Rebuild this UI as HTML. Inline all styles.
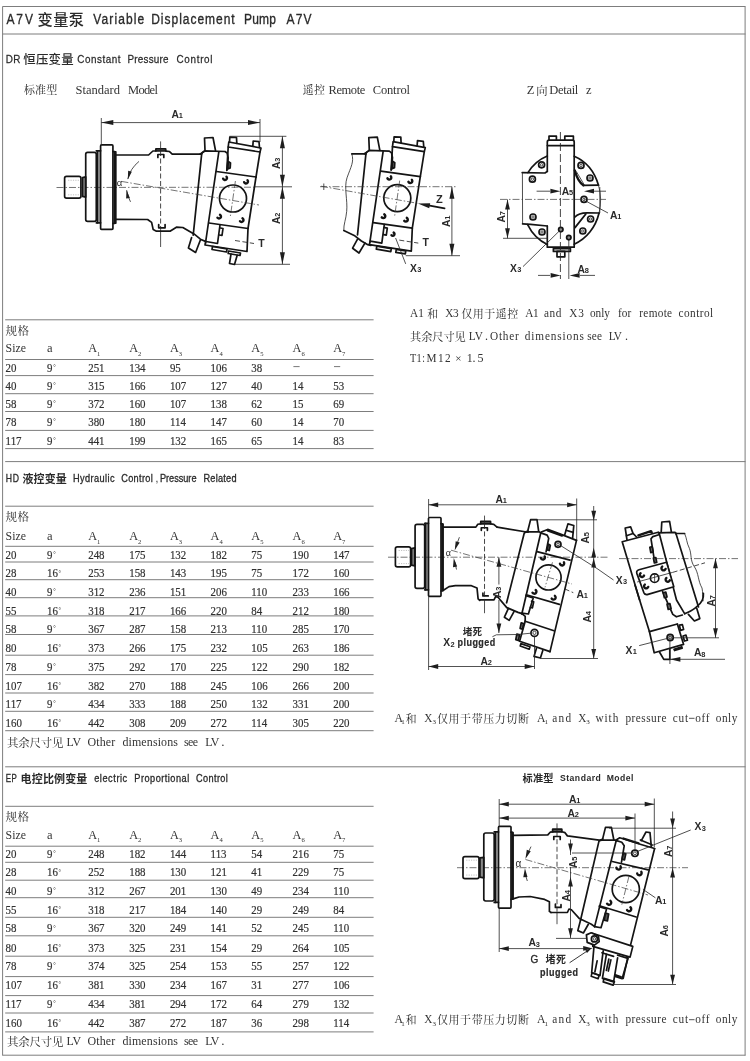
<!DOCTYPE html>
<html><head><meta charset="utf-8"><title>A7V Variable Displacement Pump</title>
<style>
html,body{margin:0;padding:0;background:#fff;}
body{width:750px;height:1061px;overflow:hidden;font-family:"Liberation Serif",serif;}
svg{display:block;filter:blur(0.4px)}
.se{font-family:"Liberation Serif",serif;fill:#333}
.sa{font-family:"Liberation Sans",sans-serif}
.mo{font-family:"Liberation Mono",monospace}
.cs{font-family:"Liberation Sans","Noto Sans CJK SC",sans-serif;fill:#2a2a2a}
.cf{font-family:"Liberation Serif","Noto Serif CJK SC",serif;fill:#2a2a2a}
text{fill:#2a2a2a;white-space:pre}
.d{fill:none;stroke:#141414;stroke-width:1.7;stroke-linecap:round;stroke-linejoin:round}
.t{fill:none;stroke:#262626;stroke-width:.8}
.c{fill:none;stroke:#3a3a3a;stroke-width:.7;stroke-dasharray:7 2 1.5 2}
.h{fill:none;stroke:#262626;stroke-width:.85;stroke-dasharray:5 2.5}
.k{fill:#1e1e1e;stroke:none}
.th{fill:none;stroke:#999;stroke-width:.6;stroke-dasharray:1.2 1.2}
.w{fill:#fff;stroke:#1e1e1e;stroke-width:1}
</style></head>
<body>
<svg width="750" height="1061" viewBox="0 0 750 1061">
<rect x="0" y="0" width="750" height="1061" fill="#fff"/>
<line x1="2.5" y1="6.5" x2="745.5" y2="6.5" stroke="#7d7d7d" stroke-width="1"/>
<line x1="2.6" y1="6.5" x2="2.6" y2="1055.5" stroke="#7d7d7d" stroke-width="1"/>
<line x1="745.1" y1="6.5" x2="745.1" y2="1055.5" stroke="#7d7d7d" stroke-width="1"/>
<line x1="2.5" y1="34" x2="745.5" y2="34" stroke="#7d7d7d" stroke-width="1"/>
<line x1="5.2" y1="461.6" x2="745.5" y2="461.6" stroke="#7d7d7d" stroke-width="1"/>
<line x1="5.2" y1="766.8" x2="745.5" y2="766.8" stroke="#7d7d7d" stroke-width="1"/>
<line x1="2.5" y1="1055.2" x2="745.5" y2="1055.2" stroke="#7d7d7d" stroke-width="1"/>
<text class="sa" font-size="15" transform="translate(6.4,23.9) scale(0.8,1)" textLength="33.25" lengthAdjust="spacing" stroke="#2a2a2a" stroke-width="0.35">A7V</text>
<text class="cs" font-size="15.2" font-weight="500" x="37.6 53.2 68.8" y="24.5">变量泵</text>
<text class="sa" font-size="15" transform="translate(93.3,23.9) scale(0.8,1)" textLength="63.75" lengthAdjust="spacing" stroke="#2a2a2a" stroke-width="0.35">Variable</text>
<text class="sa" font-size="15" transform="translate(151.2,23.9) scale(0.8,1)" textLength="104.38" lengthAdjust="spacing" stroke="#2a2a2a" stroke-width="0.35">Displacement</text>
<text class="sa" font-size="15" transform="translate(244,23.9) scale(0.8,1)" textLength="40.00" lengthAdjust="spacing" stroke="#2a2a2a" stroke-width="0.35">Pump</text>
<text class="sa" font-size="15" transform="translate(286.5,23.9) scale(0.8,1)" textLength="31.25" lengthAdjust="spacing" stroke="#2a2a2a" stroke-width="0.35">A7V</text>
<text class="sa" font-size="11.5" transform="translate(5.8,63.4) scale(0.86,1)" textLength="16.86" lengthAdjust="spacing" stroke="#2a2a2a" stroke-width="0.25">DR</text>
<text class="cs" font-size="12.4" font-weight="500" x="23.2 35.9 48.6 61.3" y="64.2">恒压变量</text>
<text class="sa" font-size="11.5" transform="translate(77.3,63.4) scale(0.86,1)" textLength="50.23" lengthAdjust="spacing" stroke="#2a2a2a" stroke-width="0.25">Constant</text>
<text class="sa" font-size="11.5" transform="translate(127.5,63.4) scale(0.86,1)" textLength="47.67" lengthAdjust="spacing" stroke="#2a2a2a" stroke-width="0.25">Pressure</text>
<text class="sa" font-size="11.5" transform="translate(176.5,63.4) scale(0.86,1)" textLength="41.86" lengthAdjust="spacing" stroke="#2a2a2a" stroke-width="0.25">Control</text>
<text class="cf" font-size="11" x="24 35.1 46.2" y="94.4">标准型</text>
<text class="se" font-size="12.5" x="75.5" y="94" textLength="44.50" lengthAdjust="spacing">Standard</text>
<text class="se" font-size="12.5" x="128" y="94" textLength="30.00" lengthAdjust="spacing">Model</text>
<text class="cf" font-size="11" x="302.7 314" y="94.4">遥控</text>
<text class="se" font-size="12.5" x="328.5" y="94" textLength="36.80" lengthAdjust="spacing">Remote</text>
<text class="se" font-size="12.5" x="372.7" y="94" textLength="37.30" lengthAdjust="spacing">Control</text>
<text class="se" font-size="12.5" x="526.7" y="94">Z</text>
<text class="cf" font-size="11.3" x="536.2" y="94.6">向</text>
<text class="se" font-size="12.5" x="549.3" y="94" textLength="29.00" lengthAdjust="spacing">Detail</text>
<text class="se" font-size="12.5" x="586" y="94">z</text>
<line x1="5.2" y1="319.8" x2="373.6" y2="319.8" stroke="#7d7d7d" stroke-width="1"/>
<line x1="5.2" y1="359.5" x2="373.6" y2="359.5" stroke="#7d7d7d" stroke-width="1"/>
<text class="cf" font-size="11.6" x="5.6 17.4" y="334.8">规格</text>
<text class="se" font-size="12.5" transform="translate(5.6,351.9) scale(0.95,1)">Size</text>
<text class="se" font-size="12.5" x="47.1" y="351.9">a</text>
<text class="se" font-size="12.5" transform="translate(88.2,351.9) scale(0.98,1)">A</text>
<text class="se" font-size="6.6" x="97.10000000000001" y="355.59999999999997">1</text>
<text class="se" font-size="12.5" transform="translate(129.2,351.9) scale(0.98,1)">A</text>
<text class="se" font-size="6.6" x="138.1" y="355.59999999999997">2</text>
<text class="se" font-size="12.5" transform="translate(169.9,351.9) scale(0.98,1)">A</text>
<text class="se" font-size="6.6" x="178.8" y="355.59999999999997">3</text>
<text class="se" font-size="12.5" transform="translate(210.6,351.9) scale(0.98,1)">A</text>
<text class="se" font-size="6.6" x="219.5" y="355.59999999999997">4</text>
<text class="se" font-size="12.5" transform="translate(251.3,351.9) scale(0.98,1)">A</text>
<text class="se" font-size="6.6" x="260.2" y="355.59999999999997">5</text>
<text class="se" font-size="12.5" transform="translate(292.6,351.9) scale(0.98,1)">A</text>
<text class="se" font-size="6.6" x="301.5" y="355.59999999999997">6</text>
<text class="se" font-size="12.5" transform="translate(333.2,351.9) scale(0.98,1)">A</text>
<text class="se" font-size="6.6" x="342.09999999999997" y="355.59999999999997">7</text>
<line x1="5.2" y1="375.6" x2="373.6" y2="375.6" stroke="#7d7d7d" stroke-width="1"/>
<text class="se" font-size="13" transform="translate(5.6,371.7) scale(0.84,1)" stroke="#2a2a2a" stroke-width="0.2">20</text>
<text class="se" font-size="13" transform="translate(47.1,371.7) scale(0.84,1)" stroke="#2a2a2a" stroke-width="0.2">9</text>
<text class="se" font-size="6.2" x="53.160000000000004" y="368.9">°</text>
<text class="se" font-size="13" transform="translate(88.2,371.7) scale(0.84,1)" stroke="#2a2a2a" stroke-width="0.2">251</text>
<text class="se" font-size="13" transform="translate(129.2,371.7) scale(0.84,1)" stroke="#2a2a2a" stroke-width="0.2">134</text>
<text class="se" font-size="13" transform="translate(169.9,371.7) scale(0.84,1)" stroke="#2a2a2a" stroke-width="0.2">95</text>
<text class="se" font-size="13" transform="translate(210.6,371.7) scale(0.84,1)" stroke="#2a2a2a" stroke-width="0.2">106</text>
<text class="se" font-size="13" transform="translate(251.3,371.7) scale(0.84,1)" stroke="#2a2a2a" stroke-width="0.2">38</text>
<line x1="293.40000000000003" y1="366.59999999999997" x2="299.6" y2="366.59999999999997" stroke="#555" stroke-width="0.8"/>
<line x1="334.0" y1="366.59999999999997" x2="340.2" y2="366.59999999999997" stroke="#555" stroke-width="0.8"/>
<line x1="5.2" y1="393.7" x2="373.6" y2="393.7" stroke="#7d7d7d" stroke-width="1"/>
<text class="se" font-size="13" transform="translate(5.6,390.2) scale(0.84,1)" stroke="#2a2a2a" stroke-width="0.2">40</text>
<text class="se" font-size="13" transform="translate(47.1,390.2) scale(0.84,1)" stroke="#2a2a2a" stroke-width="0.2">9</text>
<text class="se" font-size="6.2" x="53.160000000000004" y="387.4">°</text>
<text class="se" font-size="13" transform="translate(88.2,390.2) scale(0.84,1)" stroke="#2a2a2a" stroke-width="0.2">315</text>
<text class="se" font-size="13" transform="translate(129.2,390.2) scale(0.84,1)" stroke="#2a2a2a" stroke-width="0.2">166</text>
<text class="se" font-size="13" transform="translate(169.9,390.2) scale(0.84,1)" stroke="#2a2a2a" stroke-width="0.2">107</text>
<text class="se" font-size="13" transform="translate(210.6,390.2) scale(0.84,1)" stroke="#2a2a2a" stroke-width="0.2">127</text>
<text class="se" font-size="13" transform="translate(251.3,390.2) scale(0.84,1)" stroke="#2a2a2a" stroke-width="0.2">40</text>
<text class="se" font-size="13" transform="translate(292.6,390.2) scale(0.84,1)" stroke="#2a2a2a" stroke-width="0.2">14</text>
<text class="se" font-size="13" transform="translate(333.2,390.2) scale(0.84,1)" stroke="#2a2a2a" stroke-width="0.2">53</text>
<line x1="5.2" y1="411.5" x2="373.6" y2="411.5" stroke="#7d7d7d" stroke-width="1"/>
<text class="se" font-size="13" transform="translate(5.6,408.0) scale(0.84,1)" stroke="#2a2a2a" stroke-width="0.2">58</text>
<text class="se" font-size="13" transform="translate(47.1,408.0) scale(0.84,1)" stroke="#2a2a2a" stroke-width="0.2">9</text>
<text class="se" font-size="6.2" x="53.160000000000004" y="405.2">°</text>
<text class="se" font-size="13" transform="translate(88.2,408.0) scale(0.84,1)" stroke="#2a2a2a" stroke-width="0.2">372</text>
<text class="se" font-size="13" transform="translate(129.2,408.0) scale(0.84,1)" stroke="#2a2a2a" stroke-width="0.2">160</text>
<text class="se" font-size="13" transform="translate(169.9,408.0) scale(0.84,1)" stroke="#2a2a2a" stroke-width="0.2">107</text>
<text class="se" font-size="13" transform="translate(210.6,408.0) scale(0.84,1)" stroke="#2a2a2a" stroke-width="0.2">138</text>
<text class="se" font-size="13" transform="translate(251.3,408.0) scale(0.84,1)" stroke="#2a2a2a" stroke-width="0.2">62</text>
<text class="se" font-size="13" transform="translate(292.6,408.0) scale(0.84,1)" stroke="#2a2a2a" stroke-width="0.2">15</text>
<text class="se" font-size="13" transform="translate(333.2,408.0) scale(0.84,1)" stroke="#2a2a2a" stroke-width="0.2">69</text>
<line x1="5.2" y1="430.4" x2="373.6" y2="430.4" stroke="#7d7d7d" stroke-width="1"/>
<text class="se" font-size="13" transform="translate(5.6,426.2) scale(0.84,1)" stroke="#2a2a2a" stroke-width="0.2">78</text>
<text class="se" font-size="13" transform="translate(47.1,426.2) scale(0.84,1)" stroke="#2a2a2a" stroke-width="0.2">9</text>
<text class="se" font-size="6.2" x="53.160000000000004" y="423.4">°</text>
<text class="se" font-size="13" transform="translate(88.2,426.2) scale(0.84,1)" stroke="#2a2a2a" stroke-width="0.2">380</text>
<text class="se" font-size="13" transform="translate(129.2,426.2) scale(0.84,1)" stroke="#2a2a2a" stroke-width="0.2">180</text>
<text class="se" font-size="13" transform="translate(169.9,426.2) scale(0.84,1)" stroke="#2a2a2a" stroke-width="0.2">114</text>
<text class="se" font-size="13" transform="translate(210.6,426.2) scale(0.84,1)" stroke="#2a2a2a" stroke-width="0.2">147</text>
<text class="se" font-size="13" transform="translate(251.3,426.2) scale(0.84,1)" stroke="#2a2a2a" stroke-width="0.2">60</text>
<text class="se" font-size="13" transform="translate(292.6,426.2) scale(0.84,1)" stroke="#2a2a2a" stroke-width="0.2">14</text>
<text class="se" font-size="13" transform="translate(333.2,426.2) scale(0.84,1)" stroke="#2a2a2a" stroke-width="0.2">70</text>
<line x1="5.2" y1="448.6" x2="373.6" y2="448.6" stroke="#7d7d7d" stroke-width="1"/>
<text class="se" font-size="13" transform="translate(5.6,444.7) scale(0.84,1)" stroke="#2a2a2a" stroke-width="0.2">117</text>
<text class="se" font-size="13" transform="translate(47.1,444.7) scale(0.84,1)" stroke="#2a2a2a" stroke-width="0.2">9</text>
<text class="se" font-size="6.2" x="53.160000000000004" y="441.9">°</text>
<text class="se" font-size="13" transform="translate(88.2,444.7) scale(0.84,1)" stroke="#2a2a2a" stroke-width="0.2">441</text>
<text class="se" font-size="13" transform="translate(129.2,444.7) scale(0.84,1)" stroke="#2a2a2a" stroke-width="0.2">199</text>
<text class="se" font-size="13" transform="translate(169.9,444.7) scale(0.84,1)" stroke="#2a2a2a" stroke-width="0.2">132</text>
<text class="se" font-size="13" transform="translate(210.6,444.7) scale(0.84,1)" stroke="#2a2a2a" stroke-width="0.2">165</text>
<text class="se" font-size="13" transform="translate(251.3,444.7) scale(0.84,1)" stroke="#2a2a2a" stroke-width="0.2">65</text>
<text class="se" font-size="13" transform="translate(292.6,444.7) scale(0.84,1)" stroke="#2a2a2a" stroke-width="0.2">14</text>
<text class="se" font-size="13" transform="translate(333.2,444.7) scale(0.84,1)" stroke="#2a2a2a" stroke-width="0.2">83</text>
<text class="sa" font-size="10.2" transform="translate(5.8,482.4) scale(0.85,1)" textLength="15.65" lengthAdjust="spacing" stroke="#2a2a2a" stroke-width="0.3">HD</text>
<text class="cs" font-size="11" font-weight="bold" x="22.5 33.6 44.7 55.8" y="483.2">液控变量</text>
<text class="sa" font-size="10.2" transform="translate(73,482.4) scale(0.9,1)" textLength="46.11" lengthAdjust="spacing" stroke="#2a2a2a" stroke-width="0.3">Hydraulic</text>
<text class="sa" font-size="10.2" transform="translate(121.2,482.4) scale(0.9,1)" textLength="35.11" lengthAdjust="spacing" stroke="#2a2a2a" stroke-width="0.3">Control</text>
<text class="sa" font-size="10.2" x="155.5" y="482.4">,</text>
<text class="sa" font-size="10.2" transform="translate(160,482.4) scale(0.9,1)" textLength="40.56" lengthAdjust="spacing" stroke="#2a2a2a" stroke-width="0.3">Pressure</text>
<text class="sa" font-size="10.2" transform="translate(203.5,482.4) scale(0.9,1)" textLength="36.67" lengthAdjust="spacing" stroke="#2a2a2a" stroke-width="0.3">Related</text>
<line x1="5.2" y1="506.2" x2="373.6" y2="506.2" stroke="#7d7d7d" stroke-width="1"/>
<line x1="5.2" y1="546.3" x2="373.6" y2="546.3" stroke="#7d7d7d" stroke-width="1"/>
<text class="cf" font-size="11.6" x="5.6 17.4" y="521.2">规格</text>
<text class="se" font-size="12.5" transform="translate(5.6,540) scale(0.95,1)">Size</text>
<text class="se" font-size="12.5" x="47.1" y="540">a</text>
<text class="se" font-size="12.5" transform="translate(88.2,540) scale(0.98,1)">A</text>
<text class="se" font-size="6.6" x="97.10000000000001" y="543.7">1</text>
<text class="se" font-size="12.5" transform="translate(129.2,540) scale(0.98,1)">A</text>
<text class="se" font-size="6.6" x="138.1" y="543.7">2</text>
<text class="se" font-size="12.5" transform="translate(169.9,540) scale(0.98,1)">A</text>
<text class="se" font-size="6.6" x="178.8" y="543.7">3</text>
<text class="se" font-size="12.5" transform="translate(210.6,540) scale(0.98,1)">A</text>
<text class="se" font-size="6.6" x="219.5" y="543.7">4</text>
<text class="se" font-size="12.5" transform="translate(251.3,540) scale(0.98,1)">A</text>
<text class="se" font-size="6.6" x="260.2" y="543.7">5</text>
<text class="se" font-size="12.5" transform="translate(292.6,540) scale(0.98,1)">A</text>
<text class="se" font-size="6.6" x="301.5" y="543.7">6</text>
<text class="se" font-size="12.5" transform="translate(333.2,540) scale(0.98,1)">A</text>
<text class="se" font-size="6.6" x="342.09999999999997" y="543.7">7</text>
<line x1="5.2" y1="562" x2="373.6" y2="562" stroke="#7d7d7d" stroke-width="1"/>
<text class="se" font-size="13" transform="translate(5.6,559.0) scale(0.84,1)" stroke="#2a2a2a" stroke-width="0.2">20</text>
<text class="se" font-size="13" transform="translate(47.1,559.0) scale(0.84,1)" stroke="#2a2a2a" stroke-width="0.2">9</text>
<text class="se" font-size="6.2" x="53.160000000000004" y="556.2">°</text>
<text class="se" font-size="13" transform="translate(88.2,559.0) scale(0.84,1)" stroke="#2a2a2a" stroke-width="0.2">248</text>
<text class="se" font-size="13" transform="translate(129.2,559.0) scale(0.84,1)" stroke="#2a2a2a" stroke-width="0.2">175</text>
<text class="se" font-size="13" transform="translate(169.9,559.0) scale(0.84,1)" stroke="#2a2a2a" stroke-width="0.2">132</text>
<text class="se" font-size="13" transform="translate(210.6,559.0) scale(0.84,1)" stroke="#2a2a2a" stroke-width="0.2">182</text>
<text class="se" font-size="13" transform="translate(251.3,559.0) scale(0.84,1)" stroke="#2a2a2a" stroke-width="0.2">75</text>
<text class="se" font-size="13" transform="translate(292.6,559.0) scale(0.84,1)" stroke="#2a2a2a" stroke-width="0.2">190</text>
<text class="se" font-size="13" transform="translate(333.2,559.0) scale(0.84,1)" stroke="#2a2a2a" stroke-width="0.2">147</text>
<line x1="5.2" y1="579.7" x2="373.6" y2="579.7" stroke="#7d7d7d" stroke-width="1"/>
<text class="se" font-size="13" transform="translate(5.6,577.3) scale(0.84,1)" stroke="#2a2a2a" stroke-width="0.2">28</text>
<text class="se" font-size="13" transform="translate(47.1,577.3) scale(0.84,1)" stroke="#2a2a2a" stroke-width="0.2">16</text>
<text class="se" font-size="6.2" x="58.620000000000005" y="574.5">°</text>
<text class="se" font-size="13" transform="translate(88.2,577.3) scale(0.84,1)" stroke="#2a2a2a" stroke-width="0.2">253</text>
<text class="se" font-size="13" transform="translate(129.2,577.3) scale(0.84,1)" stroke="#2a2a2a" stroke-width="0.2">158</text>
<text class="se" font-size="13" transform="translate(169.9,577.3) scale(0.84,1)" stroke="#2a2a2a" stroke-width="0.2">143</text>
<text class="se" font-size="13" transform="translate(210.6,577.3) scale(0.84,1)" stroke="#2a2a2a" stroke-width="0.2">195</text>
<text class="se" font-size="13" transform="translate(251.3,577.3) scale(0.84,1)" stroke="#2a2a2a" stroke-width="0.2">75</text>
<text class="se" font-size="13" transform="translate(292.6,577.3) scale(0.84,1)" stroke="#2a2a2a" stroke-width="0.2">172</text>
<text class="se" font-size="13" transform="translate(333.2,577.3) scale(0.84,1)" stroke="#2a2a2a" stroke-width="0.2">160</text>
<line x1="5.2" y1="597.7" x2="373.6" y2="597.7" stroke="#7d7d7d" stroke-width="1"/>
<text class="se" font-size="13" transform="translate(5.6,596.1) scale(0.84,1)" stroke="#2a2a2a" stroke-width="0.2">40</text>
<text class="se" font-size="13" transform="translate(47.1,596.1) scale(0.84,1)" stroke="#2a2a2a" stroke-width="0.2">9</text>
<text class="se" font-size="6.2" x="53.160000000000004" y="593.3000000000001">°</text>
<text class="se" font-size="13" transform="translate(88.2,596.1) scale(0.84,1)" stroke="#2a2a2a" stroke-width="0.2">312</text>
<text class="se" font-size="13" transform="translate(129.2,596.1) scale(0.84,1)" stroke="#2a2a2a" stroke-width="0.2">236</text>
<text class="se" font-size="13" transform="translate(169.9,596.1) scale(0.84,1)" stroke="#2a2a2a" stroke-width="0.2">151</text>
<text class="se" font-size="13" transform="translate(210.6,596.1) scale(0.84,1)" stroke="#2a2a2a" stroke-width="0.2">206</text>
<text class="se" font-size="13" transform="translate(251.3,596.1) scale(0.84,1)" stroke="#2a2a2a" stroke-width="0.2">110</text>
<text class="se" font-size="13" transform="translate(292.6,596.1) scale(0.84,1)" stroke="#2a2a2a" stroke-width="0.2">233</text>
<text class="se" font-size="13" transform="translate(333.2,596.1) scale(0.84,1)" stroke="#2a2a2a" stroke-width="0.2">166</text>
<line x1="5.2" y1="615.9" x2="373.6" y2="615.9" stroke="#7d7d7d" stroke-width="1"/>
<text class="se" font-size="13" transform="translate(5.6,614.6) scale(0.84,1)" stroke="#2a2a2a" stroke-width="0.2">55</text>
<text class="se" font-size="13" transform="translate(47.1,614.6) scale(0.84,1)" stroke="#2a2a2a" stroke-width="0.2">16</text>
<text class="se" font-size="6.2" x="58.620000000000005" y="611.8000000000001">°</text>
<text class="se" font-size="13" transform="translate(88.2,614.6) scale(0.84,1)" stroke="#2a2a2a" stroke-width="0.2">318</text>
<text class="se" font-size="13" transform="translate(129.2,614.6) scale(0.84,1)" stroke="#2a2a2a" stroke-width="0.2">217</text>
<text class="se" font-size="13" transform="translate(169.9,614.6) scale(0.84,1)" stroke="#2a2a2a" stroke-width="0.2">166</text>
<text class="se" font-size="13" transform="translate(210.6,614.6) scale(0.84,1)" stroke="#2a2a2a" stroke-width="0.2">220</text>
<text class="se" font-size="13" transform="translate(251.3,614.6) scale(0.84,1)" stroke="#2a2a2a" stroke-width="0.2">84</text>
<text class="se" font-size="13" transform="translate(292.6,614.6) scale(0.84,1)" stroke="#2a2a2a" stroke-width="0.2">212</text>
<text class="se" font-size="13" transform="translate(333.2,614.6) scale(0.84,1)" stroke="#2a2a2a" stroke-width="0.2">180</text>
<line x1="5.2" y1="634.5" x2="373.6" y2="634.5" stroke="#7d7d7d" stroke-width="1"/>
<text class="se" font-size="13" transform="translate(5.6,632.8) scale(0.84,1)" stroke="#2a2a2a" stroke-width="0.2">58</text>
<text class="se" font-size="13" transform="translate(47.1,632.8) scale(0.84,1)" stroke="#2a2a2a" stroke-width="0.2">9</text>
<text class="se" font-size="6.2" x="53.160000000000004" y="630.0">°</text>
<text class="se" font-size="13" transform="translate(88.2,632.8) scale(0.84,1)" stroke="#2a2a2a" stroke-width="0.2">367</text>
<text class="se" font-size="13" transform="translate(129.2,632.8) scale(0.84,1)" stroke="#2a2a2a" stroke-width="0.2">287</text>
<text class="se" font-size="13" transform="translate(169.9,632.8) scale(0.84,1)" stroke="#2a2a2a" stroke-width="0.2">158</text>
<text class="se" font-size="13" transform="translate(210.6,632.8) scale(0.84,1)" stroke="#2a2a2a" stroke-width="0.2">213</text>
<text class="se" font-size="13" transform="translate(251.3,632.8) scale(0.84,1)" stroke="#2a2a2a" stroke-width="0.2">110</text>
<text class="se" font-size="13" transform="translate(292.6,632.8) scale(0.84,1)" stroke="#2a2a2a" stroke-width="0.2">285</text>
<text class="se" font-size="13" transform="translate(333.2,632.8) scale(0.84,1)" stroke="#2a2a2a" stroke-width="0.2">170</text>
<line x1="5.2" y1="655.2" x2="373.6" y2="655.2" stroke="#7d7d7d" stroke-width="1"/>
<text class="se" font-size="13" transform="translate(5.6,651.7) scale(0.84,1)" stroke="#2a2a2a" stroke-width="0.2">80</text>
<text class="se" font-size="13" transform="translate(47.1,651.7) scale(0.84,1)" stroke="#2a2a2a" stroke-width="0.2">16</text>
<text class="se" font-size="6.2" x="58.620000000000005" y="648.9000000000001">°</text>
<text class="se" font-size="13" transform="translate(88.2,651.7) scale(0.84,1)" stroke="#2a2a2a" stroke-width="0.2">373</text>
<text class="se" font-size="13" transform="translate(129.2,651.7) scale(0.84,1)" stroke="#2a2a2a" stroke-width="0.2">266</text>
<text class="se" font-size="13" transform="translate(169.9,651.7) scale(0.84,1)" stroke="#2a2a2a" stroke-width="0.2">175</text>
<text class="se" font-size="13" transform="translate(210.6,651.7) scale(0.84,1)" stroke="#2a2a2a" stroke-width="0.2">232</text>
<text class="se" font-size="13" transform="translate(251.3,651.7) scale(0.84,1)" stroke="#2a2a2a" stroke-width="0.2">105</text>
<text class="se" font-size="13" transform="translate(292.6,651.7) scale(0.84,1)" stroke="#2a2a2a" stroke-width="0.2">263</text>
<text class="se" font-size="13" transform="translate(333.2,651.7) scale(0.84,1)" stroke="#2a2a2a" stroke-width="0.2">186</text>
<line x1="5.2" y1="674.6" x2="373.6" y2="674.6" stroke="#7d7d7d" stroke-width="1"/>
<text class="se" font-size="13" transform="translate(5.6,670.5) scale(0.84,1)" stroke="#2a2a2a" stroke-width="0.2">78</text>
<text class="se" font-size="13" transform="translate(47.1,670.5) scale(0.84,1)" stroke="#2a2a2a" stroke-width="0.2">9</text>
<text class="se" font-size="6.2" x="53.160000000000004" y="667.7">°</text>
<text class="se" font-size="13" transform="translate(88.2,670.5) scale(0.84,1)" stroke="#2a2a2a" stroke-width="0.2">375</text>
<text class="se" font-size="13" transform="translate(129.2,670.5) scale(0.84,1)" stroke="#2a2a2a" stroke-width="0.2">292</text>
<text class="se" font-size="13" transform="translate(169.9,670.5) scale(0.84,1)" stroke="#2a2a2a" stroke-width="0.2">170</text>
<text class="se" font-size="13" transform="translate(210.6,670.5) scale(0.84,1)" stroke="#2a2a2a" stroke-width="0.2">225</text>
<text class="se" font-size="13" transform="translate(251.3,670.5) scale(0.84,1)" stroke="#2a2a2a" stroke-width="0.2">122</text>
<text class="se" font-size="13" transform="translate(292.6,670.5) scale(0.84,1)" stroke="#2a2a2a" stroke-width="0.2">290</text>
<text class="se" font-size="13" transform="translate(333.2,670.5) scale(0.84,1)" stroke="#2a2a2a" stroke-width="0.2">182</text>
<line x1="5.2" y1="693" x2="373.6" y2="693" stroke="#7d7d7d" stroke-width="1"/>
<text class="se" font-size="13" transform="translate(5.6,689.5) scale(0.84,1)" stroke="#2a2a2a" stroke-width="0.2">107</text>
<text class="se" font-size="13" transform="translate(47.1,689.5) scale(0.84,1)" stroke="#2a2a2a" stroke-width="0.2">16</text>
<text class="se" font-size="6.2" x="58.620000000000005" y="686.7">°</text>
<text class="se" font-size="13" transform="translate(88.2,689.5) scale(0.84,1)" stroke="#2a2a2a" stroke-width="0.2">382</text>
<text class="se" font-size="13" transform="translate(129.2,689.5) scale(0.84,1)" stroke="#2a2a2a" stroke-width="0.2">270</text>
<text class="se" font-size="13" transform="translate(169.9,689.5) scale(0.84,1)" stroke="#2a2a2a" stroke-width="0.2">188</text>
<text class="se" font-size="13" transform="translate(210.6,689.5) scale(0.84,1)" stroke="#2a2a2a" stroke-width="0.2">245</text>
<text class="se" font-size="13" transform="translate(251.3,689.5) scale(0.84,1)" stroke="#2a2a2a" stroke-width="0.2">106</text>
<text class="se" font-size="13" transform="translate(292.6,689.5) scale(0.84,1)" stroke="#2a2a2a" stroke-width="0.2">266</text>
<text class="se" font-size="13" transform="translate(333.2,689.5) scale(0.84,1)" stroke="#2a2a2a" stroke-width="0.2">200</text>
<line x1="5.2" y1="711.3" x2="373.6" y2="711.3" stroke="#7d7d7d" stroke-width="1"/>
<text class="se" font-size="13" transform="translate(5.6,708.2) scale(0.84,1)" stroke="#2a2a2a" stroke-width="0.2">117</text>
<text class="se" font-size="13" transform="translate(47.1,708.2) scale(0.84,1)" stroke="#2a2a2a" stroke-width="0.2">9</text>
<text class="se" font-size="6.2" x="53.160000000000004" y="705.4000000000001">°</text>
<text class="se" font-size="13" transform="translate(88.2,708.2) scale(0.84,1)" stroke="#2a2a2a" stroke-width="0.2">434</text>
<text class="se" font-size="13" transform="translate(129.2,708.2) scale(0.84,1)" stroke="#2a2a2a" stroke-width="0.2">333</text>
<text class="se" font-size="13" transform="translate(169.9,708.2) scale(0.84,1)" stroke="#2a2a2a" stroke-width="0.2">188</text>
<text class="se" font-size="13" transform="translate(210.6,708.2) scale(0.84,1)" stroke="#2a2a2a" stroke-width="0.2">250</text>
<text class="se" font-size="13" transform="translate(251.3,708.2) scale(0.84,1)" stroke="#2a2a2a" stroke-width="0.2">132</text>
<text class="se" font-size="13" transform="translate(292.6,708.2) scale(0.84,1)" stroke="#2a2a2a" stroke-width="0.2">331</text>
<text class="se" font-size="13" transform="translate(333.2,708.2) scale(0.84,1)" stroke="#2a2a2a" stroke-width="0.2">200</text>
<line x1="5.2" y1="730.7" x2="373.6" y2="730.7" stroke="#7d7d7d" stroke-width="1"/>
<text class="se" font-size="13" transform="translate(5.6,727.2) scale(0.84,1)" stroke="#2a2a2a" stroke-width="0.2">160</text>
<text class="se" font-size="13" transform="translate(47.1,727.2) scale(0.84,1)" stroke="#2a2a2a" stroke-width="0.2">16</text>
<text class="se" font-size="6.2" x="58.620000000000005" y="724.4000000000001">°</text>
<text class="se" font-size="13" transform="translate(88.2,727.2) scale(0.84,1)" stroke="#2a2a2a" stroke-width="0.2">442</text>
<text class="se" font-size="13" transform="translate(129.2,727.2) scale(0.84,1)" stroke="#2a2a2a" stroke-width="0.2">308</text>
<text class="se" font-size="13" transform="translate(169.9,727.2) scale(0.84,1)" stroke="#2a2a2a" stroke-width="0.2">209</text>
<text class="se" font-size="13" transform="translate(210.6,727.2) scale(0.84,1)" stroke="#2a2a2a" stroke-width="0.2">272</text>
<text class="se" font-size="13" transform="translate(251.3,727.2) scale(0.84,1)" stroke="#2a2a2a" stroke-width="0.2">114</text>
<text class="se" font-size="13" transform="translate(292.6,727.2) scale(0.84,1)" stroke="#2a2a2a" stroke-width="0.2">305</text>
<text class="se" font-size="13" transform="translate(333.2,727.2) scale(0.84,1)" stroke="#2a2a2a" stroke-width="0.2">220</text>
<text class="cf" font-size="11.4" x="7.1 18.35 29.6 40.85 52.1" y="746.6">其余尺寸见</text>
<text class="se" font-size="13" transform="translate(66.6,745.9) scale(0.92,1)" textLength="15.87" lengthAdjust="spacing">LV</text>
<text class="se" font-size="13" transform="translate(87.4,745.9) scale(0.92,1)" textLength="30.33" lengthAdjust="spacing">Other</text>
<text class="se" font-size="13" transform="translate(122.4,745.9) scale(0.92,1)" textLength="60.43" lengthAdjust="spacing">dimensions</text>
<text class="se" font-size="13" transform="translate(184.1,745.9) scale(0.92,1)" textLength="15.11" lengthAdjust="spacing">see</text>
<text class="se" font-size="13" transform="translate(205.2,745.9) scale(0.92,1)" textLength="15.33" lengthAdjust="spacing">LV</text>
<text class="se" font-size="13" x="221.3" y="745.9">.</text>
<text class="sa" font-size="10.2" transform="translate(5.8,782.2) scale(0.78,1)" textLength="13.97" lengthAdjust="spacing" stroke="#2a2a2a" stroke-width="0.3">EP</text>
<text class="cs" font-size="11" font-weight="bold" x="20.6 31.75 42.9 54.05 65.2 76.35" y="783">电控比例变量</text>
<text class="sa" font-size="10.2" transform="translate(94.2,782.2) scale(0.9,1)" textLength="36.67" lengthAdjust="spacing" stroke="#2a2a2a" stroke-width="0.3">electric</text>
<text class="sa" font-size="10.2" transform="translate(134.3,782.2) scale(0.9,1)" textLength="61.00" lengthAdjust="spacing" stroke="#2a2a2a" stroke-width="0.3">Proportional</text>
<text class="sa" font-size="10.2" transform="translate(195.9,782.2) scale(0.9,1)" textLength="35.56" lengthAdjust="spacing" stroke="#2a2a2a" stroke-width="0.3">Control</text>
<line x1="5.2" y1="806.3" x2="373.6" y2="806.3" stroke="#7d7d7d" stroke-width="1"/>
<line x1="5.2" y1="846.2" x2="373.6" y2="846.2" stroke="#7d7d7d" stroke-width="1"/>
<text class="cf" font-size="11.6" x="5.6 17.4" y="821.3">规格</text>
<text class="se" font-size="12.5" transform="translate(5.6,838.7) scale(0.95,1)">Size</text>
<text class="se" font-size="12.5" x="47.1" y="838.7">a</text>
<text class="se" font-size="12.5" transform="translate(88.2,838.7) scale(0.98,1)">A</text>
<text class="se" font-size="6.6" x="97.10000000000001" y="842.4000000000001">1</text>
<text class="se" font-size="12.5" transform="translate(129.2,838.7) scale(0.98,1)">A</text>
<text class="se" font-size="6.6" x="138.1" y="842.4000000000001">2</text>
<text class="se" font-size="12.5" transform="translate(169.9,838.7) scale(0.98,1)">A</text>
<text class="se" font-size="6.6" x="178.8" y="842.4000000000001">3</text>
<text class="se" font-size="12.5" transform="translate(210.6,838.7) scale(0.98,1)">A</text>
<text class="se" font-size="6.6" x="219.5" y="842.4000000000001">4</text>
<text class="se" font-size="12.5" transform="translate(251.3,838.7) scale(0.98,1)">A</text>
<text class="se" font-size="6.6" x="260.2" y="842.4000000000001">5</text>
<text class="se" font-size="12.5" transform="translate(292.6,838.7) scale(0.98,1)">A</text>
<text class="se" font-size="6.6" x="301.5" y="842.4000000000001">6</text>
<text class="se" font-size="12.5" transform="translate(333.2,838.7) scale(0.98,1)">A</text>
<text class="se" font-size="6.6" x="342.09999999999997" y="842.4000000000001">7</text>
<line x1="5.2" y1="862.3" x2="373.6" y2="862.3" stroke="#7d7d7d" stroke-width="1"/>
<text class="se" font-size="13" transform="translate(5.6,858.0) scale(0.84,1)" stroke="#2a2a2a" stroke-width="0.2">20</text>
<text class="se" font-size="13" transform="translate(47.1,858.0) scale(0.84,1)" stroke="#2a2a2a" stroke-width="0.2">9</text>
<text class="se" font-size="6.2" x="53.160000000000004" y="855.2">°</text>
<text class="se" font-size="13" transform="translate(88.2,858.0) scale(0.84,1)" stroke="#2a2a2a" stroke-width="0.2">248</text>
<text class="se" font-size="13" transform="translate(129.2,858.0) scale(0.84,1)" stroke="#2a2a2a" stroke-width="0.2">182</text>
<text class="se" font-size="13" transform="translate(169.9,858.0) scale(0.84,1)" stroke="#2a2a2a" stroke-width="0.2">144</text>
<text class="se" font-size="13" transform="translate(210.6,858.0) scale(0.84,1)" stroke="#2a2a2a" stroke-width="0.2">113</text>
<text class="se" font-size="13" transform="translate(251.3,858.0) scale(0.84,1)" stroke="#2a2a2a" stroke-width="0.2">54</text>
<text class="se" font-size="13" transform="translate(292.6,858.0) scale(0.84,1)" stroke="#2a2a2a" stroke-width="0.2">216</text>
<text class="se" font-size="13" transform="translate(333.2,858.0) scale(0.84,1)" stroke="#2a2a2a" stroke-width="0.2">75</text>
<line x1="5.2" y1="880.2" x2="373.6" y2="880.2" stroke="#7d7d7d" stroke-width="1"/>
<text class="se" font-size="13" transform="translate(5.6,876.4) scale(0.84,1)" stroke="#2a2a2a" stroke-width="0.2">28</text>
<text class="se" font-size="13" transform="translate(47.1,876.4) scale(0.84,1)" stroke="#2a2a2a" stroke-width="0.2">16</text>
<text class="se" font-size="6.2" x="58.620000000000005" y="873.6">°</text>
<text class="se" font-size="13" transform="translate(88.2,876.4) scale(0.84,1)" stroke="#2a2a2a" stroke-width="0.2">252</text>
<text class="se" font-size="13" transform="translate(129.2,876.4) scale(0.84,1)" stroke="#2a2a2a" stroke-width="0.2">188</text>
<text class="se" font-size="13" transform="translate(169.9,876.4) scale(0.84,1)" stroke="#2a2a2a" stroke-width="0.2">130</text>
<text class="se" font-size="13" transform="translate(210.6,876.4) scale(0.84,1)" stroke="#2a2a2a" stroke-width="0.2">121</text>
<text class="se" font-size="13" transform="translate(251.3,876.4) scale(0.84,1)" stroke="#2a2a2a" stroke-width="0.2">41</text>
<text class="se" font-size="13" transform="translate(292.6,876.4) scale(0.84,1)" stroke="#2a2a2a" stroke-width="0.2">229</text>
<text class="se" font-size="13" transform="translate(333.2,876.4) scale(0.84,1)" stroke="#2a2a2a" stroke-width="0.2">75</text>
<line x1="5.2" y1="897.7" x2="373.6" y2="897.7" stroke="#7d7d7d" stroke-width="1"/>
<text class="se" font-size="13" transform="translate(5.6,895.0) scale(0.84,1)" stroke="#2a2a2a" stroke-width="0.2">40</text>
<text class="se" font-size="13" transform="translate(47.1,895.0) scale(0.84,1)" stroke="#2a2a2a" stroke-width="0.2">9</text>
<text class="se" font-size="6.2" x="53.160000000000004" y="892.2">°</text>
<text class="se" font-size="13" transform="translate(88.2,895.0) scale(0.84,1)" stroke="#2a2a2a" stroke-width="0.2">312</text>
<text class="se" font-size="13" transform="translate(129.2,895.0) scale(0.84,1)" stroke="#2a2a2a" stroke-width="0.2">267</text>
<text class="se" font-size="13" transform="translate(169.9,895.0) scale(0.84,1)" stroke="#2a2a2a" stroke-width="0.2">201</text>
<text class="se" font-size="13" transform="translate(210.6,895.0) scale(0.84,1)" stroke="#2a2a2a" stroke-width="0.2">130</text>
<text class="se" font-size="13" transform="translate(251.3,895.0) scale(0.84,1)" stroke="#2a2a2a" stroke-width="0.2">49</text>
<text class="se" font-size="13" transform="translate(292.6,895.0) scale(0.84,1)" stroke="#2a2a2a" stroke-width="0.2">234</text>
<text class="se" font-size="13" transform="translate(333.2,895.0) scale(0.84,1)" stroke="#2a2a2a" stroke-width="0.2">110</text>
<line x1="5.2" y1="917.3" x2="373.6" y2="917.3" stroke="#7d7d7d" stroke-width="1"/>
<text class="se" font-size="13" transform="translate(5.6,913.8) scale(0.84,1)" stroke="#2a2a2a" stroke-width="0.2">55</text>
<text class="se" font-size="13" transform="translate(47.1,913.8) scale(0.84,1)" stroke="#2a2a2a" stroke-width="0.2">16</text>
<text class="se" font-size="6.2" x="58.620000000000005" y="911.0">°</text>
<text class="se" font-size="13" transform="translate(88.2,913.8) scale(0.84,1)" stroke="#2a2a2a" stroke-width="0.2">318</text>
<text class="se" font-size="13" transform="translate(129.2,913.8) scale(0.84,1)" stroke="#2a2a2a" stroke-width="0.2">217</text>
<text class="se" font-size="13" transform="translate(169.9,913.8) scale(0.84,1)" stroke="#2a2a2a" stroke-width="0.2">184</text>
<text class="se" font-size="13" transform="translate(210.6,913.8) scale(0.84,1)" stroke="#2a2a2a" stroke-width="0.2">140</text>
<text class="se" font-size="13" transform="translate(251.3,913.8) scale(0.84,1)" stroke="#2a2a2a" stroke-width="0.2">29</text>
<text class="se" font-size="13" transform="translate(292.6,913.8) scale(0.84,1)" stroke="#2a2a2a" stroke-width="0.2">249</text>
<text class="se" font-size="13" transform="translate(333.2,913.8) scale(0.84,1)" stroke="#2a2a2a" stroke-width="0.2">84</text>
<line x1="5.2" y1="935.8" x2="373.6" y2="935.8" stroke="#7d7d7d" stroke-width="1"/>
<text class="se" font-size="13" transform="translate(5.6,932.3) scale(0.84,1)" stroke="#2a2a2a" stroke-width="0.2">58</text>
<text class="se" font-size="13" transform="translate(47.1,932.3) scale(0.84,1)" stroke="#2a2a2a" stroke-width="0.2">9</text>
<text class="se" font-size="6.2" x="53.160000000000004" y="929.5">°</text>
<text class="se" font-size="13" transform="translate(88.2,932.3) scale(0.84,1)" stroke="#2a2a2a" stroke-width="0.2">367</text>
<text class="se" font-size="13" transform="translate(129.2,932.3) scale(0.84,1)" stroke="#2a2a2a" stroke-width="0.2">320</text>
<text class="se" font-size="13" transform="translate(169.9,932.3) scale(0.84,1)" stroke="#2a2a2a" stroke-width="0.2">249</text>
<text class="se" font-size="13" transform="translate(210.6,932.3) scale(0.84,1)" stroke="#2a2a2a" stroke-width="0.2">141</text>
<text class="se" font-size="13" transform="translate(251.3,932.3) scale(0.84,1)" stroke="#2a2a2a" stroke-width="0.2">52</text>
<text class="se" font-size="13" transform="translate(292.6,932.3) scale(0.84,1)" stroke="#2a2a2a" stroke-width="0.2">245</text>
<text class="se" font-size="13" transform="translate(333.2,932.3) scale(0.84,1)" stroke="#2a2a2a" stroke-width="0.2">110</text>
<line x1="5.2" y1="956.2" x2="373.6" y2="956.2" stroke="#7d7d7d" stroke-width="1"/>
<text class="se" font-size="13" transform="translate(5.6,951.7) scale(0.84,1)" stroke="#2a2a2a" stroke-width="0.2">80</text>
<text class="se" font-size="13" transform="translate(47.1,951.7) scale(0.84,1)" stroke="#2a2a2a" stroke-width="0.2">16</text>
<text class="se" font-size="6.2" x="58.620000000000005" y="948.9000000000001">°</text>
<text class="se" font-size="13" transform="translate(88.2,951.7) scale(0.84,1)" stroke="#2a2a2a" stroke-width="0.2">373</text>
<text class="se" font-size="13" transform="translate(129.2,951.7) scale(0.84,1)" stroke="#2a2a2a" stroke-width="0.2">325</text>
<text class="se" font-size="13" transform="translate(169.9,951.7) scale(0.84,1)" stroke="#2a2a2a" stroke-width="0.2">231</text>
<text class="se" font-size="13" transform="translate(210.6,951.7) scale(0.84,1)" stroke="#2a2a2a" stroke-width="0.2">154</text>
<text class="se" font-size="13" transform="translate(251.3,951.7) scale(0.84,1)" stroke="#2a2a2a" stroke-width="0.2">29</text>
<text class="se" font-size="13" transform="translate(292.6,951.7) scale(0.84,1)" stroke="#2a2a2a" stroke-width="0.2">264</text>
<text class="se" font-size="13" transform="translate(333.2,951.7) scale(0.84,1)" stroke="#2a2a2a" stroke-width="0.2">105</text>
<line x1="5.2" y1="976.6" x2="373.6" y2="976.6" stroke="#7d7d7d" stroke-width="1"/>
<text class="se" font-size="13" transform="translate(5.6,970.2) scale(0.84,1)" stroke="#2a2a2a" stroke-width="0.2">78</text>
<text class="se" font-size="13" transform="translate(47.1,970.2) scale(0.84,1)" stroke="#2a2a2a" stroke-width="0.2">9</text>
<text class="se" font-size="6.2" x="53.160000000000004" y="967.4000000000001">°</text>
<text class="se" font-size="13" transform="translate(88.2,970.2) scale(0.84,1)" stroke="#2a2a2a" stroke-width="0.2">374</text>
<text class="se" font-size="13" transform="translate(129.2,970.2) scale(0.84,1)" stroke="#2a2a2a" stroke-width="0.2">325</text>
<text class="se" font-size="13" transform="translate(169.9,970.2) scale(0.84,1)" stroke="#2a2a2a" stroke-width="0.2">254</text>
<text class="se" font-size="13" transform="translate(210.6,970.2) scale(0.84,1)" stroke="#2a2a2a" stroke-width="0.2">153</text>
<text class="se" font-size="13" transform="translate(251.3,970.2) scale(0.84,1)" stroke="#2a2a2a" stroke-width="0.2">55</text>
<text class="se" font-size="13" transform="translate(292.6,970.2) scale(0.84,1)" stroke="#2a2a2a" stroke-width="0.2">257</text>
<text class="se" font-size="13" transform="translate(333.2,970.2) scale(0.84,1)" stroke="#2a2a2a" stroke-width="0.2">122</text>
<line x1="5.2" y1="995.6" x2="373.6" y2="995.6" stroke="#7d7d7d" stroke-width="1"/>
<text class="se" font-size="13" transform="translate(5.6,988.7) scale(0.84,1)" stroke="#2a2a2a" stroke-width="0.2">107</text>
<text class="se" font-size="13" transform="translate(47.1,988.7) scale(0.84,1)" stroke="#2a2a2a" stroke-width="0.2">16</text>
<text class="se" font-size="6.2" x="58.620000000000005" y="985.9000000000001">°</text>
<text class="se" font-size="13" transform="translate(88.2,988.7) scale(0.84,1)" stroke="#2a2a2a" stroke-width="0.2">381</text>
<text class="se" font-size="13" transform="translate(129.2,988.7) scale(0.84,1)" stroke="#2a2a2a" stroke-width="0.2">330</text>
<text class="se" font-size="13" transform="translate(169.9,988.7) scale(0.84,1)" stroke="#2a2a2a" stroke-width="0.2">234</text>
<text class="se" font-size="13" transform="translate(210.6,988.7) scale(0.84,1)" stroke="#2a2a2a" stroke-width="0.2">167</text>
<text class="se" font-size="13" transform="translate(251.3,988.7) scale(0.84,1)" stroke="#2a2a2a" stroke-width="0.2">31</text>
<text class="se" font-size="13" transform="translate(292.6,988.7) scale(0.84,1)" stroke="#2a2a2a" stroke-width="0.2">277</text>
<text class="se" font-size="13" transform="translate(333.2,988.7) scale(0.84,1)" stroke="#2a2a2a" stroke-width="0.2">106</text>
<line x1="5.2" y1="1013" x2="373.6" y2="1013" stroke="#7d7d7d" stroke-width="1"/>
<text class="se" font-size="13" transform="translate(5.6,1007.7) scale(0.84,1)" stroke="#2a2a2a" stroke-width="0.2">117</text>
<text class="se" font-size="13" transform="translate(47.1,1007.7) scale(0.84,1)" stroke="#2a2a2a" stroke-width="0.2">9</text>
<text class="se" font-size="6.2" x="53.160000000000004" y="1004.9000000000001">°</text>
<text class="se" font-size="13" transform="translate(88.2,1007.7) scale(0.84,1)" stroke="#2a2a2a" stroke-width="0.2">434</text>
<text class="se" font-size="13" transform="translate(129.2,1007.7) scale(0.84,1)" stroke="#2a2a2a" stroke-width="0.2">381</text>
<text class="se" font-size="13" transform="translate(169.9,1007.7) scale(0.84,1)" stroke="#2a2a2a" stroke-width="0.2">294</text>
<text class="se" font-size="13" transform="translate(210.6,1007.7) scale(0.84,1)" stroke="#2a2a2a" stroke-width="0.2">172</text>
<text class="se" font-size="13" transform="translate(251.3,1007.7) scale(0.84,1)" stroke="#2a2a2a" stroke-width="0.2">64</text>
<text class="se" font-size="13" transform="translate(292.6,1007.7) scale(0.84,1)" stroke="#2a2a2a" stroke-width="0.2">279</text>
<text class="se" font-size="13" transform="translate(333.2,1007.7) scale(0.84,1)" stroke="#2a2a2a" stroke-width="0.2">132</text>
<line x1="5.2" y1="1031.9" x2="373.6" y2="1031.9" stroke="#7d7d7d" stroke-width="1"/>
<text class="se" font-size="13" transform="translate(5.6,1026.5) scale(0.84,1)" stroke="#2a2a2a" stroke-width="0.2">160</text>
<text class="se" font-size="13" transform="translate(47.1,1026.5) scale(0.84,1)" stroke="#2a2a2a" stroke-width="0.2">16</text>
<text class="se" font-size="6.2" x="58.620000000000005" y="1023.7">°</text>
<text class="se" font-size="13" transform="translate(88.2,1026.5) scale(0.84,1)" stroke="#2a2a2a" stroke-width="0.2">442</text>
<text class="se" font-size="13" transform="translate(129.2,1026.5) scale(0.84,1)" stroke="#2a2a2a" stroke-width="0.2">387</text>
<text class="se" font-size="13" transform="translate(169.9,1026.5) scale(0.84,1)" stroke="#2a2a2a" stroke-width="0.2">272</text>
<text class="se" font-size="13" transform="translate(210.6,1026.5) scale(0.84,1)" stroke="#2a2a2a" stroke-width="0.2">187</text>
<text class="se" font-size="13" transform="translate(251.3,1026.5) scale(0.84,1)" stroke="#2a2a2a" stroke-width="0.2">36</text>
<text class="se" font-size="13" transform="translate(292.6,1026.5) scale(0.84,1)" stroke="#2a2a2a" stroke-width="0.2">298</text>
<text class="se" font-size="13" transform="translate(333.2,1026.5) scale(0.84,1)" stroke="#2a2a2a" stroke-width="0.2">114</text>
<text class="cf" font-size="11.4" x="7.1 18.35 29.6 40.85 52.1" y="1045.5">其余尺寸见</text>
<text class="se" font-size="13" transform="translate(66.6,1044.8) scale(0.92,1)" textLength="15.87" lengthAdjust="spacing">LV</text>
<text class="se" font-size="13" transform="translate(87.4,1044.8) scale(0.92,1)" textLength="30.33" lengthAdjust="spacing">Other</text>
<text class="se" font-size="13" transform="translate(122.4,1044.8) scale(0.92,1)" textLength="60.43" lengthAdjust="spacing">dimensions</text>
<text class="se" font-size="13" transform="translate(184.1,1044.8) scale(0.92,1)" textLength="15.11" lengthAdjust="spacing">see</text>
<text class="se" font-size="13" transform="translate(205.2,1044.8) scale(0.92,1)" textLength="15.33" lengthAdjust="spacing">LV</text>
<text class="se" font-size="13" x="221.3" y="1044.8">.</text>
<text class="se" font-size="12" transform="translate(410.1,316.8) scale(0.94,1)" textLength="14.79" lengthAdjust="spacing">A1</text>
<text class="cf" font-size="10.8" x="427.3" y="317.9">和</text>
<text class="se" font-size="12" transform="translate(445.3,316.8) scale(0.94,1)" textLength="14.26" lengthAdjust="spacing">X3</text>
<text class="cf" font-size="11" x="461.3 472.8 484.3 495.8 507.3" y="317.9">仅用于遥控</text>
<text class="se" font-size="12" transform="translate(525.3,316.8) scale(0.94,1)" textLength="14.26" lengthAdjust="spacing">A1</text>
<text class="se" font-size="12" transform="translate(544,316.8) scale(0.94,1)" textLength="18.40" lengthAdjust="spacing">and</text>
<text class="se" font-size="12" transform="translate(569.3,316.8) scale(0.94,1)" textLength="15.64" lengthAdjust="spacing">X3</text>
<text class="se" font-size="12" transform="translate(590,316.8) scale(0.94,1)" textLength="21.28" lengthAdjust="spacing">only</text>
<text class="se" font-size="12" transform="translate(618,316.8) scale(0.94,1)" textLength="14.15" lengthAdjust="spacing">for</text>
<text class="se" font-size="12" transform="translate(639.3,316.8) scale(0.94,1)" textLength="34.89" lengthAdjust="spacing">remote</text>
<text class="se" font-size="12" transform="translate(678.5,316.8) scale(0.94,1)" textLength="36.91" lengthAdjust="spacing">control</text>
<text class="cf" font-size="11.2" x="410.1 421.2 432.3 443.4 454.5" y="340.8">其余尺寸见</text>
<text class="se" font-size="12" transform="translate(468.8,339.5) scale(0.94,1)" textLength="15.11" lengthAdjust="spacing">LV</text>
<text class="se" font-size="12" x="485" y="339.5">.</text>
<text class="se" font-size="12" transform="translate(490.1,339.5) scale(0.94,1)" textLength="30.43" lengthAdjust="spacing">Other</text>
<text class="se" font-size="12" transform="translate(524.8,339.5) scale(0.94,1)" textLength="62.98" lengthAdjust="spacing">dimensions</text>
<text class="se" font-size="12" transform="translate(587.3,339.5) scale(0.94,1)" textLength="15.64" lengthAdjust="spacing">see</text>
<text class="se" font-size="12" transform="translate(608.7,339.5) scale(0.94,1)" textLength="14.15" lengthAdjust="spacing">LV</text>
<text class="se" font-size="12" x="625" y="339.5">.</text>
<text class="se" font-size="12" transform="translate(410.1,362.2) scale(0.85,1)" textLength="13.53" lengthAdjust="spacing">T1</text>
<text class="se" font-size="12" transform="translate(422.3,362.2) scale(0.8,1)">:</text>
<text class="se" font-size="12" transform="translate(426.5,362.2) scale(0.94,1)" textLength="25.74" lengthAdjust="spacing">M12</text>
<text class="se" font-size="11" x="455.2" y="361.9">×</text>
<text class="se" font-size="12" x="466.7" y="362.2">1</text>
<text class="se" font-size="12" x="472.6" y="362.2">.</text>
<text class="se" font-size="12" x="477.5" y="362.2">5</text>
<text class="se" font-size="12" transform="translate(394.4,721.5) scale(0.98,1)">A</text>
<text class="se" font-size="7" x="401.3" y="724.1">1</text>
<text class="cf" font-size="10.8" x="405.8" y="722.6">和</text>
<text class="se" font-size="12" transform="translate(424.2,721.5) scale(0.94,1)">X</text>
<text class="se" font-size="7" x="432.6" y="724.1">3</text>
<text class="cf" font-size="11" x="437 448.56 460.12 471.68 483.24 494.8 506.36 517.92" y="722.6">仅用于带压力切断</text>
<text class="se" font-size="12" transform="translate(537,721.5) scale(0.98,1)">A</text>
<text class="se" font-size="7" x="544.6" y="724.1">1</text>
<text class="se" font-size="12" transform="translate(552.2,721.5) scale(0.94,1)" textLength="20.21" lengthAdjust="spacing">and</text>
<text class="se" font-size="12" transform="translate(578.2,721.5) scale(0.94,1)">X</text>
<text class="se" font-size="7" x="586.2" y="724.1">3</text>
<text class="se" font-size="12" transform="translate(595.5,721.5) scale(0.94,1)" textLength="24.26" lengthAdjust="spacing">with</text>
<text class="se" font-size="12" transform="translate(625.4,721.5) scale(0.94,1)" textLength="43.62" lengthAdjust="spacing">pressure</text>
<text class="se" font-size="12" transform="translate(672.7,721.5) scale(0.94,1)" textLength="16.49" lengthAdjust="spacing">cut</text>
<line x1="689" y1="718.3" x2="694.5" y2="718.3" stroke="#444" stroke-width="0.9"/>
<text class="se" font-size="12" transform="translate(695.2,721.5) scale(0.94,1)" textLength="15.21" lengthAdjust="spacing">off</text>
<text class="se" font-size="12" transform="translate(715.8,721.5) scale(0.94,1)" textLength="22.87" lengthAdjust="spacing">only</text>
<text class="se" font-size="12" transform="translate(394.4,1022.9) scale(0.98,1)">A</text>
<text class="se" font-size="7" x="401.3" y="1025.5">1</text>
<text class="cf" font-size="10.8" x="405.8" y="1024">和</text>
<text class="se" font-size="12" transform="translate(424.2,1022.9) scale(0.94,1)">X</text>
<text class="se" font-size="7" x="432.6" y="1025.5">3</text>
<text class="cf" font-size="11" x="437 448.56 460.12 471.68 483.24 494.8 506.36 517.92" y="1024">仅用于带压力切断</text>
<text class="se" font-size="12" transform="translate(537,1022.9) scale(0.98,1)">A</text>
<text class="se" font-size="7" x="544.6" y="1025.5">1</text>
<text class="se" font-size="12" transform="translate(552.2,1022.9) scale(0.94,1)" textLength="20.21" lengthAdjust="spacing">and</text>
<text class="se" font-size="12" transform="translate(578.2,1022.9) scale(0.94,1)">X</text>
<text class="se" font-size="7" x="586.2" y="1025.5">3</text>
<text class="se" font-size="12" transform="translate(595.5,1022.9) scale(0.94,1)" textLength="24.26" lengthAdjust="spacing">with</text>
<text class="se" font-size="12" transform="translate(625.4,1022.9) scale(0.94,1)" textLength="43.62" lengthAdjust="spacing">pressure</text>
<text class="se" font-size="12" transform="translate(672.7,1022.9) scale(0.94,1)" textLength="16.49" lengthAdjust="spacing">cut</text>
<line x1="689" y1="1019.6999999999999" x2="694.5" y2="1019.6999999999999" stroke="#444" stroke-width="0.9"/>
<text class="se" font-size="12" transform="translate(695.2,1022.9) scale(0.94,1)" textLength="15.21" lengthAdjust="spacing">off</text>
<text class="se" font-size="12" transform="translate(715.8,1022.9) scale(0.94,1)" textLength="22.87" lengthAdjust="spacing">only</text>
<g id="dr1">
<line class="c" x1="56.5" y1="187.5" x2="256.0" y2="187.2"/>
<line class="t" x1="255.0" y1="186.8" x2="292.0" y2="186.8"/>
<rect class="d" x="64.6" y="176.28" width="16.32" height="21.92" rx="1.92"/>
<line class="th" x1="68.12" y1="180.28" x2="79.0" y2="180.28"/>
<line class="th" x1="68.12" y1="194.84" x2="79.0" y2="194.84"/>
<path class="d" d="M82.52 177.56 L85.72 176.92 L85.72 197.08 L82.52 196.44 Z" style="fill:#888"/>
<rect class="d" x="85.72" y="152.28" width="10.56" height="69.12" rx="1.92"/>
<path class="d" d="M96.28 150.84 L100.6 150.84"/>
<path class="d" d="M96.28 222.84 L100.6 222.84"/>
<line class="d" x1="97.4" y1="150.84" x2="97.4" y2="222.84"/>
<line class="t" x1="99.0" y1="150.84" x2="99.0" y2="222.84" style="stroke:#222"/>
<rect class="d" x="100.6" y="144.92" width="12.32" height="84.48" rx="0.96"/>
<path class="d" d="M112.92 151.48 L115.8 151.8 L115.8 223.16 L112.92 223.48"/>
<line class="d" x1="114.36" y1="151.64" x2="114.36" y2="223.32"/>
<path class="d" d="M115.8 155.0 L148.6 155.0 L152.92 151.0 L155.8 151.0"/>
<rect class="d" x="155.8" y="148.76" width="9.92" height="2.24" rx="0.32" style="fill:#555"/>
<path class="d" d="M166.0 151.04 L169.52 151.52 L172.24 154.08 L200.4 154.08"/>
<path class="d" d="M157.88 157.4 L157.88 154.52 L163.8 154.52 L163.8 157.4"/>
<path class="d" d="M158.68 224.6 L158.68 227.8 L165.08 227.8 L165.08 224.6"/>
<line class="t" x1="160.6" y1="141.4" x2="160.6" y2="151.0"/>
<line class="h" x1="160.6" y1="151.0" x2="160.6" y2="229.4"/>
<line class="t" x1="160.6" y1="229.4" x2="160.6" y2="247.0"/>
<path class="d" d="M115.76 219.36 L147.6 219.52 L151.6 222.4 L153.2 229.6 L156.4 231.2 L170.0 231.2 L176.4 227.2 L182.8 227.52 L194.0 233.92 L200.4 239.2 L206.0 241.6"/>
<g transform="translate(0,0)">
<path class="d" d="M200.0 154.2 L202.5 152.5 L205.0 150.8"/>
<path class="d" d="M193.2 235.2 L201.6 154.6"/>
<path class="d" d="M201.5 154.2 L202.5 152.5 L205.0 150.8 L225.0 151.5 L227.2 153.2 L228.2 158.0 L227.0 170.0"/>
<line class="d" x1="218.8" y1="152.0" x2="205.5" y2="243.0"/>
<path class="d" d="M205.0 150.5 L204.5 138.0 L213.0 137.5 L215.5 150.5"/>
<path class="d" d="M228.8 142.0 L261.0 148.0 L260.0 152.0 L228.2 147.0 Z"/>
<path class="d" d="M229.5 142.0 L229.8 137.2 L236.5 137.5 L236.8 143.3"/>
<path class="d" d="M252.8 146.2 L253.2 141.0 L259.0 141.7 L259.5 147.6"/>
<path class="d" d="M228.2 147.0 L226.8 170.5"/>
<path class="d" d="M260.0 152.0 L256.0 177.0"/>
<path class="d" d="M228.3 161.5 L230.5 163.0 L230.2 168.0 L227.8 169.0 Z" style="fill:#666"/>
<path class="d" d="M216.5 171.5 L256.0 177.0"/>
<line class="d" x1="256.0" y1="177.0" x2="248.0" y2="228.5"/>
<path class="d" d="M209.0 223.0 L248.0 228.5"/>
<path class="d" d="M205.5 243.0 L205.0 245.0 L247.0 251.5 L248.0 228.5"/>
<path class="d" d="M220.0 225.0 L217.5 243.5 L206.0 241.5"/>
<path class="d" d="M220.5 228.0 L223.0 228.5 L222.0 235.5 L219.5 235.0"/>
<line class="h" x1="235.0" y1="240.5" x2="254.0" y2="243.5"/>
<circle class="d" cx="233.0" cy="198.5" r="13.5"/>
<path class="d" d="M226.53 176.71 A2.00 2.00 0 1 1 223.12 178.68" style="stroke-width:2.4"/>
<path class="d" d="M247.53 180.21 A2.00 2.00 0 1 1 244.12 182.18" style="stroke-width:2.4"/>
<path class="d" d="M220.00 214.77 A2.00 2.00 0 1 1 217.47 217.79" style="stroke-width:2.4"/>
<path class="d" d="M242.50 218.27 A2.00 2.00 0 1 1 239.97 221.29" style="stroke-width:2.4"/>
<line class="c" x1="235.4" y1="181.0" x2="230.4" y2="216.0"/>
<path class="d" d="M212.5 246.5 L227.0 249.0 L226.5 252.0 L212.0 249.5 Z"/>
<path class="d" d="M228.5 251.0 L240.5 253.0 L240.0 255.5 L228.2 253.5 Z"/>
<path class="d" d="M231.0 254.2 L229.5 263.5 L234.5 264.5 L237.2 255.3"/>
<path class="d" d="M191.6 237.6 L188.4 248.0 L195.6 252.48 L200.4 240.0"/>
</g>
<line class="c" x1="121.4" y1="181.4" x2="259.0" y2="205.0"/>
<text class="sa" font-size="9.5" x="116.8" y="186.3">α</text>
<path class="t" d="M 139.0 161.4 Q 130.2 168.6 127.8 179.0"/>
<path class="t" d="M 126.68 190.2 Q 127.8 196.6 130.52 201.88"/>
<path class="k" d="M127.80 179.48 L128.16 170.78 L131.84 171.76 Z"/>
<path class="k" d="M126.52 189.88 L129.87 197.92 L126.12 198.58 Z"/>
<line class="t" x1="101.3" y1="118.0" x2="101.3" y2="145.0"/>
<line class="t" x1="260.0" y1="119.0" x2="260.0" y2="142.0"/>
<line class="t" x1="101.3" y1="122.6" x2="260.0" y2="122.6"/>
<path class="k" d="M101.30 122.60 L113.30 120.10 L113.30 125.10 Z"/>
<path class="k" d="M260.00 122.60 L248.00 125.10 L248.00 120.10 Z"/>
<g transform="translate(171.5,117.5)"><text class="sa" font-size="10.3" font-weight="bold" x="0" y="0">A</text><text class="sa" font-size="7.416" font-weight="bold" x="7.2" y="0.3">1</text></g>
<line class="t" x1="282.4" y1="136.3" x2="282.4" y2="264.3"/>
<line class="t" x1="229.5" y1="136.3" x2="286.4" y2="136.3"/>
<line class="t" x1="235.0" y1="264.3" x2="290.0" y2="264.3"/>
<path class="k" d="M282.40 136.30 L284.90 148.30 L279.90 148.30 Z"/>
<path class="k" d="M282.40 186.80 L279.90 174.80 L284.90 174.80 Z"/>
<path class="k" d="M282.40 186.80 L284.90 198.80 L279.90 198.80 Z"/>
<path class="k" d="M282.40 264.30 L279.90 252.30 L284.90 252.30 Z"/>
<g transform="translate(280,169) rotate(-90)"><text class="sa" font-size="10.3" font-weight="bold" x="0" y="0">A</text><text class="sa" font-size="7.416" font-weight="bold" x="7.2" y="0.3">3</text></g>
<g transform="translate(280,224) rotate(-90)"><text class="sa" font-size="10.3" font-weight="bold" x="0" y="0">A</text><text class="sa" font-size="7.416" font-weight="bold" x="7.2" y="0.3">2</text></g>
<text class="sa" font-size="10.5" x="258.3" y="246.8" font-weight="bold">T</text>
</g>
<g id="dr2">
<g transform="translate(164.3,-0.4)">
<path class="d" d="M200.0 154.2 L202.5 152.5 L205.0 150.8"/>
<path class="d" d="M193.2 235.2 L201.6 154.6"/>
<path class="d" d="M201.5 154.2 L202.5 152.5 L205.0 150.8 L225.0 151.5 L227.2 153.2 L228.2 158.0 L227.0 170.0"/>
<line class="d" x1="218.8" y1="152.0" x2="205.5" y2="243.0"/>
<path class="d" d="M205.0 150.5 L204.5 138.0 L213.0 137.5 L215.5 150.5"/>
<path class="d" d="M228.8 142.0 L261.0 148.0 L260.0 152.0 L228.2 147.0 Z"/>
<path class="d" d="M229.5 142.0 L229.8 137.2 L236.5 137.5 L236.8 143.3"/>
<path class="d" d="M252.8 146.2 L253.2 141.0 L259.0 141.7 L259.5 147.6"/>
<path class="d" d="M228.2 147.0 L226.8 170.5"/>
<path class="d" d="M260.0 152.0 L256.0 177.0"/>
<path class="d" d="M228.3 161.5 L230.5 163.0 L230.2 168.0 L227.8 169.0 Z" style="fill:#666"/>
<path class="d" d="M216.5 171.5 L256.0 177.0"/>
<line class="d" x1="256.0" y1="177.0" x2="248.0" y2="228.5"/>
<path class="d" d="M209.0 223.0 L248.0 228.5"/>
<path class="d" d="M205.5 243.0 L205.0 245.0 L247.0 251.5 L248.0 228.5"/>
<path class="d" d="M220.0 225.0 L217.5 243.5 L206.0 241.5"/>
<path class="d" d="M220.5 228.0 L223.0 228.5 L222.0 235.5 L219.5 235.0"/>
<line class="h" x1="235.0" y1="240.5" x2="254.0" y2="243.5"/>
<circle class="d" cx="233.0" cy="198.5" r="13.5"/>
<path class="d" d="M226.53 176.71 A2.00 2.00 0 1 1 223.12 178.68" style="stroke-width:2.4"/>
<path class="d" d="M247.53 180.21 A2.00 2.00 0 1 1 244.12 182.18" style="stroke-width:2.4"/>
<path class="d" d="M220.00 214.77 A2.00 2.00 0 1 1 217.47 217.79" style="stroke-width:2.4"/>
<path class="d" d="M242.50 218.27 A2.00 2.00 0 1 1 239.97 221.29" style="stroke-width:2.4"/>
<line class="c" x1="235.4" y1="181.0" x2="230.4" y2="216.0"/>
<path class="d" d="M212.5 246.5 L227.0 249.0 L226.5 252.0 L212.0 249.5 Z"/>
<path class="d" d="M232.0 249.8 L241.5 251.3 L241.0 254.2 L231.5 252.7 Z"/>
<path class="d" d="M229.35 233.03 A1.70 1.70 0 1 1 227.20 235.59" style="stroke-width:2.4"/>
</g>
<path class="t" d="M 351.8 153.8 C 354.2 161.8 351.0 166.6 347.0 177.8 C 343.8 187.4 347.8 200.2 346.68 211.4 C 346.04 219.4 343.48 224.2 343.8 230.6" style="stroke:#222;stroke-width:.8"/>
<path class="d" d="M351.8 153.8 L365.88 153.8"/>
<path class="d" d="M343.8 230.6 L354.2 235.4 L361.4 241.0 L367.8 244.68 L371.0 245.32"/>
<path class="d" d="M357.4 239.4 L352.6 248.2 L359.0 253.0 L364.92 243.08"/>
<line class="c" x1="320.0" y1="186.7" x2="457.0" y2="186.7"/>
<line class="t" x1="323.8" y1="183.5" x2="323.8" y2="190.0"/>
<line class="c" x1="321.0" y1="186.2" x2="418.0" y2="203.4"/>
<path class="d" d="M427.0 205.2 L444.6 208.4"/>
<path class="k" d="M417.93 203.39 L430.19 203.23 L429.23 208.13 Z"/>
<text class="sa" font-size="11" x="436" y="202.8" font-weight="bold">Z</text>
<line class="t" x1="451.9" y1="186.7" x2="451.9" y2="255.7"/>
<line class="t" x1="405.7" y1="255.7" x2="460.0" y2="255.7"/>
<path class="k" d="M451.90 186.70 L454.40 198.70 L449.40 198.70 Z"/>
<path class="k" d="M451.90 255.70 L449.40 243.70 L454.40 243.70 Z"/>
<g transform="translate(450,227) rotate(-90)"><text class="sa" font-size="10.3" font-weight="bold" x="0" y="0">A</text><text class="sa" font-size="7.416" font-weight="bold" x="7.2" y="0.3">1</text></g>
<text class="sa" font-size="10.5" x="422.4" y="245.5" font-weight="bold">T</text>
<g transform="translate(410,271.5)"><text class="sa" font-size="10.3" font-weight="bold" x="0" y="0">X</text><text class="sa" font-size="7.416" font-weight="bold" x="7.2" y="0.3">3</text></g>
<line class="t" x1="395.6" y1="238.0" x2="405.7" y2="263.9"/>
</g>
<g id="dr3">
<path class="d" d="M547.3 171.4 L547.3 142 Q547.3 140.2 549.0999999999999 140.2 L572.4000000000001 140.2 Q574.2 140.2 574.2 142 L574.2 247.2 L547.3 247.2 L547.3 226"/>
<line class="d" x1="547.3" y1="145.6" x2="574.2" y2="145.6" style="stroke-width:1.6"/>
<path class="d" d="M549.0 140.2 L549.0 136.2 L556.4 136.2 L556.4 140.2"/>
<path class="d" d="M564.8 140.2 L564.8 136.2 L573.4 136.2 L573.4 140.2"/>
<path class="d" d="M527.93 172.60 A40.2 46.8 0 0 1 547.30 155.95"/>
<path class="d" d="M522.2 172.6 L545.0 173.0 L547.3 171.4"/>
<line class="t" x1="522.4" y1="172.6" x2="522.6" y2="223.8" style="stroke:#222;stroke-width:.8"/>
<path class="d" d="M522.6 223.8 L530.6 224.4 L547.3 226.0"/>
<path class="d" d="M547.30 244.45 A40.2 46.8 0 0 1 527.60 224.60"/>
<path class="d" d="M574.20 156.24 A40.2 46.8 0 0 1 598.48 185.20"/>
<path class="d" d="M598.48 185.2 L583.4 185.4"/>
<path class="d" style="stroke-width:2.3" d="M583.4 185.4 Q577.5 181 574.8 170.4"/>
<line class="t" x1="576.3" y1="171.5" x2="584.5" y2="185.2" style="stroke:#222"/>
<path class="t" d="M598.48 185.20 A40.2 46.8 0 0 1 599.07 213.00"/>
<path class="d" d="M599.07 213 L587 212.8 Q578.5 213 575 217"/>
<path class="d" d="M599.07 213.00 A40.2 46.8 0 0 1 574.20 244.16"/>
<line class="d" x1="585.8" y1="214.0" x2="575.0" y2="227.6" style="stroke-width:1.8"/>
<circle class="d" cx="541.6" cy="164.8" r="3.0"/>
<circle class="t" cx="541.6" cy="164.8" r="1.2"/>
<circle class="d" cx="532.4" cy="179.2" r="3.0"/>
<circle class="t" cx="532.4" cy="179.2" r="1.2"/>
<circle class="d" cx="581.0" cy="165.4" r="3.0"/>
<circle class="t" cx="581.0" cy="165.4" r="1.2"/>
<circle class="d" cx="590.0" cy="178.0" r="3.0"/>
<circle class="t" cx="590.0" cy="178.0" r="1.2"/>
<circle class="d" cx="584.0" cy="199.4" r="3.0"/>
<circle class="t" cx="584.0" cy="199.4" r="1.2"/>
<circle class="d" cx="533.0" cy="217.0" r="3.0"/>
<circle class="t" cx="533.0" cy="217.0" r="1.2"/>
<circle class="d" cx="542.0" cy="232.0" r="3.0"/>
<circle class="t" cx="542.0" cy="232.0" r="1.2"/>
<circle class="d" cx="590.6" cy="219.0" r="3.0"/>
<circle class="t" cx="590.6" cy="219.0" r="1.2"/>
<circle class="d" cx="582.8" cy="231.0" r="3.0"/>
<circle class="t" cx="582.8" cy="231.0" r="1.2"/>
<circle class="d" cx="560.8" cy="229.6" r="2.2" style="fill:#888"/>
<circle class="d" cx="568.8" cy="237.6" r="2.2" style="fill:#888"/>
<rect class="d" x="553.4" y="248.6" width="17.0" height="2.8" rx="0.0"/>
<rect class="d" x="557.0" y="251.4" width="7.8" height="5.4" rx="0.0"/>
<line class="h" x1="560.4" y1="132.0" x2="560.4" y2="279.0" style="stroke-dasharray:8 3"/>
<line class="c" x1="500.0" y1="199.4" x2="606.0" y2="199.4"/>
<line class="t" x1="536.6" y1="191.2" x2="550.0" y2="191.2"/>
<line class="t" x1="594.0" y1="191.2" x2="606.0" y2="191.2"/>
<path class="k" d="M560.40 191.20 L550.40 193.60 L550.40 188.80 Z"/>
<path class="k" d="M584.00 191.20 L594.00 188.80 L594.00 193.60 Z"/>
<line class="t" x1="599.8" y1="187.0" x2="599.8" y2="213.0"/>
<g transform="translate(561.8,194.8)"><text class="sa" font-size="10.3" font-weight="bold" x="0" y="0">A</text><text class="sa" font-size="7.416" font-weight="bold" x="7.2" y="0.3">5</text></g>
<line class="t" x1="507.5" y1="199.4" x2="507.5" y2="238.3"/>
<line class="t" x1="503.0" y1="238.3" x2="548.0" y2="238.3"/>
<path class="k" d="M507.50 199.40 L509.90 209.40 L505.10 209.40 Z"/>
<path class="k" d="M507.50 238.30 L505.10 228.30 L509.90 228.30 Z"/>
<g transform="translate(504.5,222.5) rotate(-90)"><text class="sa" font-size="10.3" font-weight="bold" x="0" y="0">A</text><text class="sa" font-size="7.416" font-weight="bold" x="7.2" y="0.3">7</text></g>
<line class="t" x1="538.0" y1="275.4" x2="550.0" y2="275.4"/>
<line class="t" x1="580.0" y1="275.4" x2="595.0" y2="275.4"/>
<path class="k" d="M560.60 275.40 L550.60 277.80 L550.60 273.00 Z"/>
<path class="k" d="M569.60 275.40 L579.60 273.00 L579.60 277.80 Z"/>
<line class="t" x1="568.8" y1="240.0" x2="568.8" y2="279.0"/>
<g transform="translate(577.5,272.5)"><text class="sa" font-size="10.3" font-weight="bold" x="0" y="0">A</text><text class="sa" font-size="7.416" font-weight="bold" x="7.2" y="0.3">8</text></g>
<line class="t" x1="523.0" y1="266.6" x2="559.3" y2="231.0" style="stroke:#222;stroke-width:.8"/>
<g transform="translate(510,271.5)"><text class="sa" font-size="10.3" font-weight="bold" x="0" y="0">X</text><text class="sa" font-size="7.416" font-weight="bold" x="7.2" y="0.3">3</text></g>
<line class="t" x1="586.3" y1="201.3" x2="608.0" y2="213.0" style="stroke:#222;stroke-width:.8"/>
<g transform="translate(610,218.5)"><text class="sa" font-size="10.3" font-weight="bold" x="0" y="0">A</text><text class="sa" font-size="7.416" font-weight="bold" x="7.2" y="0.3">1</text></g>
</g>
<g id="dr4">
<line class="c" x1="388.0" y1="557.2" x2="608.0" y2="557.2"/>
<rect class="d" x="395.4" y="546.8" width="15.2" height="20.0" rx="1.92"/>
<line class="th" x1="398.6" y1="550.48" x2="409.0" y2="550.48"/>
<line class="th" x1="398.6" y1="563.6" x2="409.0" y2="563.6"/>
<path class="d" d="M411.56 548.56 L414.76 547.92 L414.76 565.84 L411.56 565.2 Z" style="fill:#888"/>
<rect class="d" x="415.08" y="524.4" width="9.6" height="64.0" rx="1.92"/>
<path class="d" d="M424.68 523.28 L428.52 523.28"/>
<path class="d" d="M424.68 589.84 L428.52 589.84"/>
<line class="d" x1="425.64" y1="523.28" x2="425.64" y2="589.84"/>
<line class="t" x1="427.08" y1="523.28" x2="427.08" y2="589.84" style="stroke:#222"/>
<rect class="d" x="428.52" y="517.52" width="12.48" height="78.88" rx="0.96"/>
<path class="d" d="M441.0 523.6 L443.08 524.08 L443.08 590.48 L441.0 590.96"/>
<line class="d" x1="442.12" y1="523.76" x2="442.12" y2="590.8"/>
<path class="d" d="M443.08 527.12 L475.88 527.12 L477.8 524.24 L480.68 523.92"/>
<rect class="d" x="480.68" y="521.36" width="9.92" height="2.56" rx="0.32" style="fill:#555"/>
<path class="d" d="M490.6 523.92 L493.8 524.4 L497.0 527.12"/>
<path class="d" d="M497.12 527.12 L528.0 532.24"/>
<path class="d" d="M443.08 590.48 L449.0 586.64 L455.4 585.68 L471.4 585.68 L477.0 587.92 L478.12 598.8 L479.72 600.4"/>
<path class="d" d="M479.92 599.92 L494.0 599.92 L495.6 596.72 L498.0 597.2 L506.8 607.6 L518.0 612.4 L522.0 613.68"/>
<path class="d" d="M508.4 608.4 L504.4 617.2 L509.2 620.4 L514.0 611.6"/>
<path class="d" d="M481.32 530.32 L481.32 527.76 L487.4 527.76 L487.4 530.32"/>
<path class="d" d="M482.92 593.2 L482.92 595.92 L488.2 595.92"/>
<line class="t" x1="484.52" y1="515.6" x2="484.52" y2="523.92"/>
<line class="h" x1="484.52" y1="523.92" x2="484.52" y2="600.4"/>
<line class="t" x1="484.52" y1="600.4" x2="484.52" y2="613.2"/>
<path class="d" d="M506.6 602.8 L524.2 533.25 L525.8 531.87 L527.93 530.91"/>
<path class="d" d="M525.8 531.87 L539.35 531.87 L540.73 532.93"/>
<line class="d" x1="540.8" y1="532.8" x2="521.8" y2="614.0"/>
<path class="d" d="M527.93 530.27 L530.6 519.6 L537.0 519.6 L538.6 530.8"/>
<path class="d" d="M540.73 532.93 L547.13 535.07 L548.73 538.27 L546.07 551.81"/>
<path class="d" d="M548.2 544.13 L550.33 545.2 L549.27 550.53 L547.13 550.0 Z" style="fill:#666"/>
<path class="d" d="M541.27 532.08 L547.67 529.41 L563.13 535.17 L576.47 540.4"/>
<path class="d" d="M547.45 530.48 L562.07 535.6" style="stroke-width:2.2"/>
<path class="d" d="M564.73 534.75 L567.93 523.87 L573.8 525.47 L572.63 537.95"/>
<path class="d" d="M566.01 530.27 L573.27 532.4"/>
<path class="d" d="M576.5 540.4 L550.0 651.6"/>
<circle class="d" cx="558.01" cy="544.35" r="2.99"/>
<circle class="t" cx="558.01" cy="544.35" r="1.28" style="stroke:#222"/>
<path class="t" d="M560.5 545.5 L597.0 568.5 L613.5 580.0" style="stroke:#222;stroke-width:.8"/>
<path class="d" d="M537.0 551.6 L570.07 560.13"/>
<path class="d" d="M526.33 594.8 L559.4 604.4"/>
<circle class="d" cx="548.52" cy="577.41" r="12.59"/>
<path class="d" d="M544.72 556.40 A2.13 2.13 0 1 1 540.77 557.84" style="stroke-width:2.4"/>
<path class="d" d="M563.92 562.26 A2.13 2.13 0 1 1 559.97 563.70" style="stroke-width:2.4"/>
<path class="d" d="M535.70 589.97 A2.13 2.13 0 1 1 532.48 592.67" style="stroke-width:2.4"/>
<path class="d" d="M554.90 595.84 A2.13 2.13 0 1 1 551.68 598.54" style="stroke-width:2.4"/>
<line class="c" x1="552.47" y1="562.27" x2="545.0" y2="587.33"/>
<line class="h" x1="564.73" y1="588.93" x2="573.27" y2="592.67"/>
<g transform="translate(576.5,597.5)"><text class="sa" font-size="10.3" font-weight="bold" x="0" y="0">A</text><text class="sa" font-size="7.416" font-weight="bold" x="7.2" y="0.3">1</text></g>
<path class="d" d="M526.0 595.6 L533.2 598.0 L528.4 614.0 L522.0 613.2"/>
<path class="d" d="M531.6 601.2 L533.68 601.84 L532.4 607.92 L530.32 607.28"/>
<path class="d" d="M522.0 613.68 L525.2 616.4 L525.2 621.2"/>
<path class="d" d="M525.2 621.2 L554.0 630.8"/>
<path class="d" d="M525.2 621.2 L519.6 641.2 L550.0 651.6"/>
<path class="d" d="M521.2 622.8 L523.6 623.6 L522.48 629.2 L520.08 628.4 Z" style="fill:#777"/>
<path class="d" d="M516.88 634.0 L519.6 634.8 L518.32 640.56 L515.76 639.76 Z" style="fill:#777"/>
<path class="d" d="M520.88 643.6 L530.0 646.8 L529.2 649.2 L520.24 646.0 Z"/>
<circle class="d" cx="534.48" cy="632.88" r="3.52"/>
<circle class="t" cx="534.48" cy="632.88" r="1.6" style="stroke:#222"/>
<path class="d" d="M536.4 648.4 L534.0 656.4 L540.4 658.0 L542.8 650.48"/>
<path class="t" d="M492.4 636.72 L496.4 634.8 L518.0 634.48 L530.8 633.2"/>
<text class="cs" font-size="9.6" font-weight="bold" x="462.8 472.4" y="634.6">堵死</text>
<g transform="translate(443.3,646.3)"><text class="sa" font-size="10.3" font-weight="bold" x="0" y="0">X</text><text class="sa" font-size="7.416" font-weight="bold" x="7.2" y="0.3">2</text></g>
<text class="sa" font-size="10" transform="translate(457.6,646) scale(0.9,1)" font-weight="bold" textLength="41.78" lengthAdjust="spacing" stroke="#2a2a2a" stroke-width="0.2">plugged</text>
<line class="c" x1="451.0" y1="550.2" x2="572.0" y2="584.0"/>
<text class="sa" font-size="9" x="445.8" y="556.3">α</text>
<line class="t" x1="459.4" y1="537.2" x2="455.88" y2="546.8"/>
<path class="k" d="M454.76 550.32 L455.70 541.13 L459.68 542.49 Z"/>
<line class="t" x1="456.52" y1="569.52" x2="454.76" y2="562.0"/>
<path class="k" d="M453.80 558.00 L457.13 566.62 L452.97 567.20 Z"/>
<line class="t" x1="428.6" y1="499.0" x2="428.6" y2="517.0"/>
<line class="t" x1="428.6" y1="597.0" x2="428.6" y2="670.0"/>
<line class="t" x1="576.7" y1="498.5" x2="576.7" y2="540.0"/>
<line class="t" x1="428.6" y1="504.8" x2="576.7" y2="504.8"/>
<path class="k" d="M428.60 504.80 L438.20 502.40 L438.20 507.20 Z"/>
<path class="k" d="M576.70 504.80 L567.10 507.20 L567.10 502.40 Z"/>
<g transform="translate(495.5,503)"><text class="sa" font-size="10.3" font-weight="bold" x="0" y="0">A</text><text class="sa" font-size="7.416" font-weight="bold" x="7.2" y="0.3">1</text></g>
<line class="t" x1="428.6" y1="666.5" x2="534.3" y2="666.5"/>
<path class="k" d="M428.60 666.50 L438.20 664.10 L438.20 668.90 Z"/>
<path class="k" d="M534.30 666.50 L524.70 668.90 L524.70 664.10 Z"/>
<line class="t" x1="534.5" y1="636.0" x2="534.5" y2="669.0"/>
<g transform="translate(480.5,664.7)"><text class="sa" font-size="10.3" font-weight="bold" x="0" y="0">A</text><text class="sa" font-size="7.416" font-weight="bold" x="7.2" y="0.3">2</text></g>
<line class="t" x1="498.9" y1="557.2" x2="498.9" y2="584.5"/>
<line class="t" x1="498.9" y1="600.0" x2="498.9" y2="633.0"/>
<path class="k" d="M498.90 557.20 L501.30 566.80 L496.50 566.80 Z"/>
<path class="k" d="M498.90 633.00 L496.50 623.40 L501.30 623.40 Z"/>
<g transform="translate(500.5,598) rotate(-90)"><text class="sa" font-size="10.3" font-weight="bold" x="0" y="0">A</text><text class="sa" font-size="7.416" font-weight="bold" x="7.2" y="0.3">3</text></g>
<line class="t" x1="531.0" y1="519.8" x2="597.0" y2="519.8"/>
<line class="t" x1="593.7" y1="506.0" x2="593.7" y2="658.5"/>
<path class="k" d="M593.70 520.40 L591.30 510.80 L596.10 510.80 Z"/>
<path class="k" d="M593.70 547.80 L596.10 557.40 L591.30 557.40 Z"/>
<path class="k" d="M593.70 558.00 L596.10 567.60 L591.30 567.60 Z"/>
<path class="k" d="M593.70 658.50 L591.30 648.90 L596.10 648.90 Z"/>
<line class="t" x1="540.5" y1="658.5" x2="598.0" y2="658.5"/>
<g transform="translate(589,543.5) rotate(-90)"><text class="sa" font-size="10.3" font-weight="bold" x="0" y="0">A</text><text class="sa" font-size="7.416" font-weight="bold" x="7.2" y="0.3">5</text></g>
<g transform="translate(591,622.5) rotate(-90)"><text class="sa" font-size="10.3" font-weight="bold" x="0" y="0">A</text><text class="sa" font-size="7.416" font-weight="bold" x="7.2" y="0.3">4</text></g>
</g>
<g id="dr5">
<line class="c" x1="619.0" y1="558.6" x2="738.0" y2="558.6"/>
<path class="d" d="M658.2 532.2 L622.2 541.8 L639.6 600.0"/>
<path class="d" d="M635.0 585.0 L649.4 631.56 L654.2 652.8 L683.6 644.4 L677.36 624.0"/>
<path class="d" d="M649.4 631.56 L677.36 624.0"/>
<path class="d" d="M627.0 540.0 L625.2 528.0 L630.6 526.8 L633.0 533.4 L636.6 537.0"/>
<path class="d" d="M626.4 535.8 L633.0 533.52"/>
<path class="d" d="M638.4 535.44 L651.0 531.12 L651.72 532.56" style="stroke-width:2.4"/>
<path class="d" d="M661.2 532.2 L661.8 522.0 L669.6 521.4 L671.4 532.2"/>
<path class="d" d="M658.2 532.8 L675.0 532.32 L676.2 534.0"/>
<path class="d" d="M659.0 532.5 L676.5 600.0 L684.6 613.6"/>
<path class="d" d="M675.8 533.0 L698.5 607.0"/>
<path class="d" d="M676.2 533.52 L684.6 533.52"/>
<path class="t" d="M 684.6 533.52 C 687.0 538.8 686.4 542.4 689.4 548.4 C 691.8 554.4 690.0 560.4 694.2 566.4 C 699.0 573.6 697.8 580.8 702.0 588.0 C 703.2 592.8 702.0 596.4 703.2 601.2" style="stroke:#222;stroke-width:.8"/>
<path class="d" d="M 703.4 593.4 C 704.0 599.4 701.6 603.0 696.8 606.6 C 693.2 610.2 688.4 612.0 684.8 613.8"/>
<path class="d" d="M688.4 614.4 L694.4 621.0 L699.8 618.6 L696.8 608.4"/>
<path class="d" d="M654.6 561.6 L651.0 538.8 L652.8 536.64 L658.8 534.72"/>
<path class="d" d="M662.6 591.6 L672.8 614.4 L676.4 616.8 L682.4 615.0"/>
<path class="d" d="M649.8 547.2 L652.2 546.6 L653.16 552.0 L650.76 552.6 Z" style="fill:#777"/>
<path class="d" d="M653.4 558.0 L655.8 557.52 L656.76 562.32 L654.36 562.92 Z" style="fill:#777"/>
<path class="d" d="M663.2 592.8 L665.84 592.2 L667.04 597.0 L664.4 597.72 Z" style="fill:#777"/>
<path class="d" d="M667.04 604.2 L669.92 603.6 L671.12 608.76 L668.24 609.48 Z" style="fill:#777"/>
<path class="d" d="M 639.0 569.76 L 666.6 562.2 L 673.8 586.8 L 648.0 594.36 Q 645.0 595.2 643.8 592.56 L 636.84 573.36 Q 636.0 570.6 639.0 569.76 Z" style="fill:#fff"/>
<circle class="d" cx="654.6" cy="578.16" r="4.2"/>
<line class="t" x1="654.6" y1="574.8" x2="654.6" y2="581.52"/>
<path class="d" d="M644.03 575.54 A2.16 2.16 0 1 1 640.61 573.15" style="stroke-width:2.4"/>
<path class="d" d="M665.63 568.94 A2.16 2.16 0 1 1 662.21 566.55" style="stroke-width:2.4"/>
<path class="d" d="M648.23 586.94 A2.16 2.16 0 1 1 644.81 584.55" style="stroke-width:2.4"/>
<path class="d" d="M669.83 580.34 A2.16 2.16 0 1 1 666.41 577.95" style="stroke-width:2.4"/>
<line class="t" x1="637.2" y1="582.0" x2="672.6" y2="572.4"/>
<line class="h" x1="672.6" y1="572.4" x2="705.0" y2="562.8"/>
<path class="d" d="M679.4 625.2 L682.4 624.6 L683.6 629.4 L680.6 630.36 Z"/>
<path class="d" d="M683.0 636.0 L686.0 635.16 L687.44 640.2 L684.44 641.04 Z"/>
<path class="d" d="M674.0 649.2 L681.8 646.8 L682.16 648.24 L674.6 650.52 Z"/>
<circle class="d" cx="670.16" cy="637.56" r="3.12" style="fill:#bbb"/>
<circle class="t" cx="670.16" cy="637.56" r="1.44" style="stroke:#222"/>
<path class="d" d="M659.6 652.2 L663.8 659.4 L669.8 659.4 L669.8 649.2"/>
<line class="t" x1="639.2" y1="645.6" x2="667.4" y2="638.4" style="stroke:#222"/>
<g transform="translate(625.5,653.5)"><text class="sa" font-size="10.3" font-weight="bold" x="0" y="0">X</text><text class="sa" font-size="7.416" font-weight="bold" x="7.2" y="0.3">1</text></g>
<g transform="translate(615.8,584)"><text class="sa" font-size="10.3" font-weight="bold" x="0" y="0">X</text><text class="sa" font-size="7.416" font-weight="bold" x="7.2" y="0.3">3</text></g>
<line class="t" x1="715.5" y1="558.6" x2="715.5" y2="637.8"/>
<path class="k" d="M715.50 558.60 L717.90 568.20 L713.10 568.20 Z"/>
<path class="k" d="M715.50 637.80 L713.10 628.20 L717.90 628.20 Z"/>
<line class="t" x1="674.0" y1="637.8" x2="719.0" y2="637.8"/>
<g transform="translate(714.5,606.5) rotate(-90)"><text class="sa" font-size="10.3" font-weight="bold" x="0" y="0">A</text><text class="sa" font-size="7.416" font-weight="bold" x="7.2" y="0.3">7</text></g>
<line class="t" x1="669.9" y1="641.0" x2="669.9" y2="664.0"/>
<line class="t" x1="669.9" y1="659.3" x2="725.0" y2="659.3"/>
<path class="k" d="M669.90 659.30 L680.40 656.90 L680.40 661.70 Z"/>
<g transform="translate(694,656.2)"><text class="sa" font-size="10.3" font-weight="bold" x="0" y="0">A</text><text class="sa" font-size="7.416" font-weight="bold" x="7.2" y="0.3">8</text></g>
</g>
<g id="dr6">
<text class="cs" font-size="10.2" font-weight="bold" x="522.6 532.9 543.2" y="781.8">标准型</text>
<text class="sa" font-size="9.6" transform="translate(560,781.2) scale(0.9,1)" font-weight="bold" textLength="45.33" lengthAdjust="spacing">Standard</text>
<text class="sa" font-size="9.6" transform="translate(606.7,781.2) scale(0.9,1)" font-weight="bold" textLength="29.56" lengthAdjust="spacing">Model</text>
<line class="c" x1="457.0" y1="867.7" x2="688.0" y2="867.7"/>
<rect class="d" x="463.0" y="856.68" width="16.0" height="21.92" rx="1.92"/>
<line class="th" x1="466.2" y1="860.2" x2="477.4" y2="860.2"/>
<line class="th" x1="466.2" y1="875.08" x2="477.4" y2="875.08"/>
<path class="d" d="M479.96 857.96 L483.8 857.32 L483.8 877.8 L479.96 877.16 Z" style="fill:#888"/>
<rect class="d" x="483.8" y="833.0" width="10.4" height="68.0" rx="1.92"/>
<path class="d" d="M494.2 831.88 L498.52 831.88"/>
<path class="d" d="M494.2 902.44 L498.52 902.44"/>
<line class="d" x1="495.32" y1="831.88" x2="495.32" y2="902.44"/>
<line class="t" x1="496.92" y1="831.88" x2="496.92" y2="902.44" style="stroke:#222"/>
<rect class="d" x="498.52" y="826.28" width="12.48" height="81.92" rx="0.96"/>
<path class="d" d="M511.0 832.2 L513.08 832.68 L513.08 898.92 L511.0 899.4"/>
<line class="d" x1="512.12" y1="832.36" x2="512.12" y2="899.24"/>
<path class="d" d="M513.08 835.4 L547.8 834.92 L550.2 832.2 L552.92 831.88"/>
<rect class="d" x="552.6" y="829.16" width="9.28" height="2.72" rx="0.32" style="fill:#555"/>
<path class="d" d="M561.8 831.72 L565.0 832.68 L567.4 835.88 L601.0 840.36"/>
<path class="d" d="M553.8 839.4 L553.8 836.52 L560.2 836.52 L560.2 839.4"/>
<path class="d" d="M555.4 904.2 L555.4 907.4 L561.0 907.4 L561.0 904.68"/>
<line class="t" x1="557.0" y1="823.4" x2="557.0" y2="831.72"/>
<line class="h" x1="557.0" y1="831.72" x2="557.0" y2="912.52"/>
<line class="t" x1="557.0" y1="912.52" x2="557.0" y2="924.2"/>
<path class="d" d="M513.08 898.92 L519.0 897.0 L530.2 896.52 L544.6 899.4 L549.4 901.8 L549.4 911.4 L551.0 912.52"/>
<path class="d" d="M551.4 912.52 L567.4 912.52 L569.0 909.0 L571.4 909.8 L579.4 918.6 L591.4 924.2 L594.6 926.6"/>
<path class="d" d="M580.52 920.2 L598.92 841.32 L600.52 840.04 L602.92 839.08"/>
<path class="d" d="M600.52 840.04 L615.08 840.04 L616.52 841.0"/>
<path class="d" d="M616.3 840.2 L594.6 926.6"/>
<path class="d" d="M580.52 920.2 L577.8 930.6 L583.4 933.0 L588.2 924.52"/>
<path class="d" d="M602.6 839.08 L605.48 827.4 L611.4 827.4 L613.8 839.72"/>
<path class="d" d="M616.52 840.68 L621.8 842.28 L624.2 845.8 L621.48 862.12"/>
<path class="d" d="M623.4 853.0 L625.8 853.8 L624.52 859.88 L622.12 859.08 Z" style="fill:#666"/>
<path class="d" d="M616.52 839.72 L619.72 837.8 L641.0 844.52 L654.6 848.52"/>
<path class="d" d="M623.4 838.44 L638.6 843.24" style="stroke-width:2.2"/>
<path class="d" d="M641.33 840.67 L646.0 832.0 L650.0 832.67 L651.33 846.93"/>
<path class="d" d="M640.4 840.0 L652.0 844.67"/>
<path class="d" d="M654.6 848.5 L630.4 945.6 L623.2 978.4"/>
<circle class="d" cx="634.92" cy="853.32" r="3.2"/>
<circle class="t" cx="634.92" cy="853.32" r="1.44" style="stroke:#222"/>
<line class="t" x1="637.3" y1="851.5" x2="690.7" y2="830.0" style="stroke:#222;stroke-width:.8"/>
<g transform="translate(694.5,830.2)"><text class="sa" font-size="10.3" font-weight="bold" x="0" y="0">X</text><text class="sa" font-size="7.416" font-weight="bold" x="7.2" y="0.3">3</text></g>
<path class="d" d="M612.2 861.48 L648.2 869.8"/>
<path class="d" d="M599.4 905.8 L636.2 917.0"/>
<circle class="d" cx="625.8" cy="889.0" r="13.6"/>
<path class="d" d="M620.54 866.28 A2.24 2.24 0 1 1 616.39 867.79" style="stroke-width:2.4"/>
<path class="d" d="M641.34 871.88 A2.24 2.24 0 1 1 637.19 873.39" style="stroke-width:2.4"/>
<path class="d" d="M610.44 900.88 A2.24 2.24 0 1 1 607.06 903.72" style="stroke-width:2.4"/>
<path class="d" d="M630.44 907.28 A2.24 2.24 0 1 1 627.06 910.12" style="stroke-width:2.4"/>
<line class="c" x1="629.0" y1="876.2" x2="621.8" y2="904.68"/>
<line class="c" x1="525.5" y1="859.5" x2="648.0" y2="895.0"/>
<line class="t" x1="642.92" y1="889.32" x2="655.4" y2="897.8" style="stroke:#222"/>
<g transform="translate(655,903.5)"><text class="sa" font-size="10.3" font-weight="bold" x="0" y="0">A</text><text class="sa" font-size="7.416" font-weight="bold" x="7.2" y="0.3">1</text></g>
<path class="d" d="M599.4 906.6 L606.6 909.0 L601.0 927.72 L594.6 926.6"/>
<path class="d" d="M605.48 913.0 L608.68 913.96 L607.4 921.0 L604.2 920.2 Z" style="fill:#555"/>
<path class="d" d="M592.48 933.28 L632.8 946.4 L630.08 957.12 L592.8 946.4 Z" style="fill:#fff"/>
<path class="d" d="M586.4 934.88 L591.2 932.8 L598.4 936.0 L599.2 941.6 L594.4 945.12 L587.2 942.4 Z" style="fill:#fff"/>
<circle class="d" cx="594.4" cy="938.88" r="3.04"/>
<circle class="t" cx="594.4" cy="938.88" r="1.28" style="stroke:#222"/>
<path class="d" d="M593.92 947.2 L591.68 972.8 L600.0 975.52 L603.2 950.88"/>
<path class="d" d="M592.0 972.8 L599.2 975.2 L598.08 978.72 L591.2 976.32 Z"/>
<path class="d" d="M597.12 960.8 L594.88 972.0"/>
<path class="d" d="M601.92 952.8 L613.6 956.32"/>
<path class="d" d="M606.4 954.4 L602.4 978.4 L613.6 981.92 L617.6 957.92"/>
<path class="d" d="M604.0 978.4 L614.4 981.6 L613.12 985.12 L603.2 981.92 Z"/>
<path class="d" d="M608.8 959.2 L606.4 970.4"/>
<path class="d" d="M610.88 959.84 L608.32 971.04"/>
<path class="d" d="M617.6 955.2 L628.0 958.4 L622.08 978.72 L615.2 976.48"/>
<path class="d" d="M615.2 975.2 L620.8 977.12" style="stroke-width:2.4"/>
<text class="sa" font-size="10" x="530.5" y="962.5" stroke="#2a2a2a" stroke-width="0.3">G</text>
<text class="cs" font-size="10" font-weight="bold" x="545.5 556.1" y="962.6">堵死</text>
<text class="sa" font-size="10" transform="translate(540,976) scale(0.9,1)" font-weight="bold" textLength="42.22" lengthAdjust="spacing" stroke="#2a2a2a" stroke-width="0.2">plugged</text>
<line class="t" x1="569.6" y1="962.72" x2="588.8" y2="949.92" style="stroke:#222;stroke-width:.9"/>
<path class="k" d="M592.00 947.84 L586.98 952.92 L585.41 950.59 Z"/>
<text class="sa" font-size="10" x="515.5" y="866.5">α</text>
<line class="t" x1="531.0" y1="846.6" x2="526.52" y2="856.2"/>
<path class="k" d="M525.40 858.92 L526.82 849.79 L530.72 851.36 Z"/>
<line class="t" x1="527.32" y1="881.0" x2="525.4" y2="874.6"/>
<path class="k" d="M524.92 868.20 L527.49 877.08 L523.29 877.30 Z"/>
<line class="t" x1="499.2" y1="799.0" x2="499.2" y2="826.0"/>
<line class="t" x1="499.2" y1="908.5" x2="499.2" y2="952.0"/>
<line class="t" x1="499.2" y1="804.2" x2="654.3" y2="804.2"/>
<path class="k" d="M499.20 804.20 L508.80 801.80 L508.80 806.60 Z"/>
<path class="k" d="M654.30 804.20 L644.70 806.60 L644.70 801.80 Z"/>
<line class="t" x1="654.3" y1="798.5" x2="654.3" y2="847.0"/>
<line class="t" x1="499.2" y1="818.1" x2="635.0" y2="818.1"/>
<path class="k" d="M499.20 818.10 L508.80 815.70 L508.80 820.50 Z"/>
<path class="k" d="M635.00 818.10 L625.40 820.50 L625.40 815.70 Z"/>
<line class="t" x1="635.0" y1="813.5" x2="635.0" y2="850.0"/>
<g transform="translate(569,803)"><text class="sa" font-size="10.3" font-weight="bold" x="0" y="0">A</text><text class="sa" font-size="7.416" font-weight="bold" x="7.2" y="0.3">1</text></g>
<g transform="translate(567.5,816.8)"><text class="sa" font-size="10.3" font-weight="bold" x="0" y="0">A</text><text class="sa" font-size="7.416" font-weight="bold" x="7.2" y="0.3">2</text></g>
<line class="t" x1="499.2" y1="948.6" x2="585.0" y2="948.6"/>
<path class="k" d="M499.20 948.60 L508.80 946.20 L508.80 951.00 Z"/>
<path class="k" d="M592.80 948.40 L583.20 950.80 L583.20 946.00 Z"/>
<g transform="translate(528.5,946.3)"><text class="sa" font-size="10.3" font-weight="bold" x="0" y="0">A</text><text class="sa" font-size="7.416" font-weight="bold" x="7.2" y="0.3">3</text></g>
<line class="t" x1="570.5" y1="839.5" x2="570.5" y2="938.0"/>
<line class="t" x1="572.0" y1="853.0" x2="632.0" y2="853.0"/>
<path class="k" d="M570.50 853.00 L568.10 843.40 L572.90 843.40 Z"/>
<path class="k" d="M570.50 877.00 L572.90 886.60 L568.10 886.60 Z"/>
<path class="k" d="M570.50 937.80 L568.10 928.20 L572.90 928.20 Z"/>
<line class="t" x1="556.0" y1="938.4" x2="586.5" y2="938.4"/>
<rect x="566" y="855" width="9" height="12" fill="#fff"/>
<g transform="translate(576.5,868) rotate(-90)"><text class="sa" font-size="10.3" font-weight="bold" x="0" y="0">A</text><text class="sa" font-size="7.416" font-weight="bold" x="7.2" y="0.3">5</text></g>
<g transform="translate(569.5,901.5) rotate(-90)"><text class="sa" font-size="10.3" font-weight="bold" x="0" y="0">A</text><text class="sa" font-size="7.416" font-weight="bold" x="7.2" y="0.3">4</text></g>
<line class="t" x1="609.0" y1="828.2" x2="676.0" y2="828.2"/>
<line class="t" x1="672.6" y1="811.5" x2="672.6" y2="984.3"/>
<path class="k" d="M672.60 828.20 L670.20 818.60 L675.00 818.60 Z"/>
<path class="k" d="M672.60 868.00 L675.00 877.60 L670.20 877.60 Z"/>
<path class="k" d="M672.60 984.30 L670.20 974.70 L675.00 974.70 Z"/>
<line class="t" x1="613.0" y1="984.5" x2="676.0" y2="984.5"/>
<g transform="translate(672,857) rotate(-90)"><text class="sa" font-size="10.3" font-weight="bold" x="0" y="0">A</text><text class="sa" font-size="7.416" font-weight="bold" x="7.2" y="0.3">7</text></g>
<g transform="translate(668,936.5) rotate(-90)"><text class="sa" font-size="10.3" font-weight="bold" x="0" y="0">A</text><text class="sa" font-size="7.416" font-weight="bold" x="7.2" y="0.3">6</text></g>
</g>
</svg>
</body></html>
